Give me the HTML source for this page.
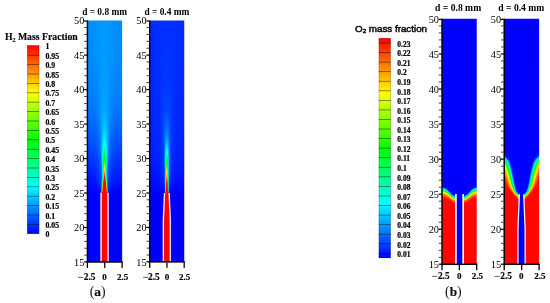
<!DOCTYPE html>
<html lang="en"><head><meta charset="utf-8"><title>Mass fraction contours</title>
<style>html,body{margin:0;padding:0;background:#fff;}svg{display:block;}</style></head>
<body>
<svg width="550" height="303" viewBox="0 0 550 303">
<defs>
<linearGradient id="p1_0" gradientUnits="userSpaceOnUse" x1="0" y1="20" x2="0" y2="262"><stop offset="0.002066" stop-color="#008cff"/><stop offset="0.1467" stop-color="#008aff"/><stop offset="0.2872" stop-color="#0081ff"/><stop offset="0.374" stop-color="#0075ff"/><stop offset="0.4731" stop-color="#005bff"/><stop offset="0.7169" stop-color="#0000ff"/><stop offset="0.9979" stop-color="#0000ff"/></linearGradient>
<linearGradient id="p1_1" gradientUnits="userSpaceOnUse" x1="0" y1="20" x2="0" y2="262"><stop offset="0.002066" stop-color="#008cff"/><stop offset="0.1467" stop-color="#008aff"/><stop offset="0.2872" stop-color="#0081ff"/><stop offset="0.374" stop-color="#0075ff"/><stop offset="0.4731" stop-color="#005bff"/><stop offset="0.7169" stop-color="#0000ff"/><stop offset="0.9979" stop-color="#0000ff"/></linearGradient>
<linearGradient id="p1_2" gradientUnits="userSpaceOnUse" x1="0" y1="20" x2="0" y2="262"><stop offset="0.002066" stop-color="#008dff"/><stop offset="0.1467" stop-color="#008aff"/><stop offset="0.2872" stop-color="#0081ff"/><stop offset="0.374" stop-color="#0075ff"/><stop offset="0.4731" stop-color="#005bff"/><stop offset="0.7169" stop-color="#0000ff"/><stop offset="0.9979" stop-color="#0000ff"/></linearGradient>
<linearGradient id="p1_3" gradientUnits="userSpaceOnUse" x1="0" y1="20" x2="0" y2="262"><stop offset="0.002066" stop-color="#008dff"/><stop offset="0.1467" stop-color="#008bff"/><stop offset="0.2872" stop-color="#0081ff"/><stop offset="0.374" stop-color="#0076ff"/><stop offset="0.4731" stop-color="#005bff"/><stop offset="0.7169" stop-color="#0000ff"/><stop offset="0.9979" stop-color="#0000ff"/></linearGradient>
<linearGradient id="p1_4" gradientUnits="userSpaceOnUse" x1="0" y1="20" x2="0" y2="262"><stop offset="0.002066" stop-color="#008eff"/><stop offset="0.1467" stop-color="#008bff"/><stop offset="0.2872" stop-color="#0082ff"/><stop offset="0.374" stop-color="#0076ff"/><stop offset="0.4731" stop-color="#005cff"/><stop offset="0.7169" stop-color="#0000ff"/><stop offset="0.9979" stop-color="#0000ff"/></linearGradient>
<linearGradient id="p1_5" gradientUnits="userSpaceOnUse" x1="0" y1="20" x2="0" y2="262"><stop offset="0.002066" stop-color="#008eff"/><stop offset="0.1467" stop-color="#008cff"/><stop offset="0.2872" stop-color="#0082ff"/><stop offset="0.374" stop-color="#0077ff"/><stop offset="0.4731" stop-color="#005cff"/><stop offset="0.7169" stop-color="#0000ff"/><stop offset="0.9979" stop-color="#0000ff"/></linearGradient>
<linearGradient id="p1_6" gradientUnits="userSpaceOnUse" x1="0" y1="20" x2="0" y2="262"><stop offset="0.002066" stop-color="#008fff"/><stop offset="0.1467" stop-color="#008dff"/><stop offset="0.2872" stop-color="#0083ff"/><stop offset="0.374" stop-color="#0078ff"/><stop offset="0.4855" stop-color="#0059ff"/><stop offset="0.5723" stop-color="#003aff"/><stop offset="0.7169" stop-color="#0000ff"/><stop offset="0.9979" stop-color="#0000ff"/></linearGradient>
<linearGradient id="p1_7" gradientUnits="userSpaceOnUse" x1="0" y1="20" x2="0" y2="262"><stop offset="0.002066" stop-color="#0090ff"/><stop offset="0.1467" stop-color="#008eff"/><stop offset="0.2872" stop-color="#0084ff"/><stop offset="0.374" stop-color="#0079ff"/><stop offset="0.469" stop-color="#0061ff"/><stop offset="0.5351" stop-color="#004aff"/><stop offset="0.7169" stop-color="#0000ff"/><stop offset="0.9979" stop-color="#0000ff"/></linearGradient>
<linearGradient id="p1_8" gradientUnits="userSpaceOnUse" x1="0" y1="20" x2="0" y2="262"><stop offset="0.002066" stop-color="#0092ff"/><stop offset="0.1632" stop-color="#008fff"/><stop offset="0.2872" stop-color="#0086ff"/><stop offset="0.374" stop-color="#007cff"/><stop offset="0.469" stop-color="#0063ff"/><stop offset="0.5434" stop-color="#004aff"/><stop offset="0.6715" stop-color="#0016ff"/><stop offset="0.7169" stop-color="#0000ff"/><stop offset="0.9979" stop-color="#0000ff"/></linearGradient>
<linearGradient id="p1_9" gradientUnits="userSpaceOnUse" x1="0" y1="20" x2="0" y2="262"><stop offset="0.002066" stop-color="#0093ff"/><stop offset="0.1798" stop-color="#0090ff"/><stop offset="0.374" stop-color="#007fff"/><stop offset="0.469" stop-color="#0067ff"/><stop offset="0.5434" stop-color="#004fff"/><stop offset="0.6715" stop-color="#001bff"/><stop offset="0.7169" stop-color="#0000ff"/><stop offset="0.9979" stop-color="#0000ff"/></linearGradient>
<linearGradient id="p1_10" gradientUnits="userSpaceOnUse" x1="0" y1="20" x2="0" y2="262"><stop offset="0.002066" stop-color="#0094ff"/><stop offset="0.1921" stop-color="#0091ff"/><stop offset="0.374" stop-color="#0083ff"/><stop offset="0.469" stop-color="#006cff"/><stop offset="0.5434" stop-color="#0055ff"/><stop offset="0.6715" stop-color="#0021ff"/><stop offset="0.7169" stop-color="#0000ff"/><stop offset="0.9979" stop-color="#0000ff"/></linearGradient>
<linearGradient id="p1_11" gradientUnits="userSpaceOnUse" x1="0" y1="20" x2="0" y2="262"><stop offset="0.002066" stop-color="#0095ff"/><stop offset="0.2004" stop-color="#0093ff"/><stop offset="0.374" stop-color="#0088ff"/><stop offset="0.469" stop-color="#0074ff"/><stop offset="0.5475" stop-color="#005cff"/><stop offset="0.6715" stop-color="#0028ff"/><stop offset="0.7169" stop-color="#0000ff"/><stop offset="0.9979" stop-color="#0000ff"/></linearGradient>
<linearGradient id="p1_12" gradientUnits="userSpaceOnUse" x1="0" y1="20" x2="0" y2="262"><stop offset="0.002066" stop-color="#0097ff"/><stop offset="0.2252" stop-color="#0095ff"/><stop offset="0.3905" stop-color="#008dff"/><stop offset="0.4731" stop-color="#007eff"/><stop offset="0.5434" stop-color="#0069ff"/><stop offset="0.6715" stop-color="#0032ff"/><stop offset="0.7169" stop-color="#0000ff"/><stop offset="0.9979" stop-color="#0000ff"/></linearGradient>
<linearGradient id="p1_13" gradientUnits="userSpaceOnUse" x1="0" y1="20" x2="0" y2="262"><stop offset="0.002066" stop-color="#0097ff"/><stop offset="0.3492" stop-color="#0097ff"/><stop offset="0.4731" stop-color="#008fff"/><stop offset="0.5434" stop-color="#007fff"/><stop offset="0.626" stop-color="#0050ff"/><stop offset="0.6715" stop-color="#003dff"/><stop offset="0.7128" stop-color="#0009ff"/><stop offset="0.7169" stop-color="#0000ff"/><stop offset="0.9979" stop-color="#0000ff"/></linearGradient>
<linearGradient id="p1_14" gradientUnits="userSpaceOnUse" x1="0" y1="20" x2="0" y2="262"><stop offset="0.002066" stop-color="#0098ff"/><stop offset="0.2872" stop-color="#009aff"/><stop offset="0.5021" stop-color="#00a7ff"/><stop offset="0.5351" stop-color="#00acff"/><stop offset="0.5558" stop-color="#00a9ff"/><stop offset="0.5806" stop-color="#009bff"/><stop offset="0.6384" stop-color="#0064ff"/><stop offset="0.6591" stop-color="#006cff"/><stop offset="0.6798" stop-color="#007dff"/><stop offset="0.688" stop-color="#008aff"/><stop offset="0.6921" stop-color="#008ef8"/><stop offset="0.7004" stop-color="#009be2"/><stop offset="0.7045" stop-color="#00a5d3"/><stop offset="0.7087" stop-color="#02aebd"/><stop offset="0.7128" stop-color="#13b5ac"/><stop offset="0.7169" stop-color="#0000ff"/><stop offset="0.9979" stop-color="#0000ff"/></linearGradient>
<linearGradient id="p1_15" gradientUnits="userSpaceOnUse" x1="0" y1="20" x2="0" y2="262"><stop offset="0.002066" stop-color="#0099ff"/><stop offset="0.2872" stop-color="#009cff"/><stop offset="0.374" stop-color="#00a4ff"/><stop offset="0.4607" stop-color="#00baff"/><stop offset="0.5021" stop-color="#00cdff"/><stop offset="0.5227" stop-color="#00e6ff"/><stop offset="0.5434" stop-color="#00f0f8"/><stop offset="0.5599" stop-color="#00f4ec"/><stop offset="0.5847" stop-color="#00f4df"/><stop offset="0.6012" stop-color="#00f0db"/><stop offset="0.6178" stop-color="#00e6de"/><stop offset="0.6343" stop-color="#00d7ea"/><stop offset="0.6384" stop-color="#00d7e7"/><stop offset="0.6426" stop-color="#00ddd8"/><stop offset="0.6467" stop-color="#00e3c7"/><stop offset="0.655" stop-color="#02f09d"/><stop offset="0.6674" stop-color="#27fd69"/><stop offset="0.6715" stop-color="#40ff59"/><stop offset="0.6756" stop-color="#58fa49"/><stop offset="0.6798" stop-color="#67ec35"/><stop offset="0.6839" stop-color="#7edd25"/><stop offset="0.688" stop-color="#96c81a"/><stop offset="0.6921" stop-color="#a7ad0d"/><stop offset="0.6963" stop-color="#bd9801"/><stop offset="0.7004" stop-color="#d47e00"/><stop offset="0.7045" stop-color="#e86400"/><stop offset="0.7087" stop-color="#fc5000"/><stop offset="0.7128" stop-color="#ff3200"/><stop offset="0.7169" stop-color="#0000ff"/><stop offset="0.9979" stop-color="#0000ff"/></linearGradient>
<linearGradient id="p1_16" gradientUnits="userSpaceOnUse" x1="0" y1="20" x2="0" y2="262"><stop offset="0.002066" stop-color="#0099ff"/><stop offset="0.2831" stop-color="#009dff"/><stop offset="0.3698" stop-color="#00a7ff"/><stop offset="0.4566" stop-color="#00c9ff"/><stop offset="0.5021" stop-color="#00f1ff"/><stop offset="0.5062" stop-color="#00f8fd"/><stop offset="0.5145" stop-color="#00fff0"/><stop offset="0.5434" stop-color="#00ffb3"/><stop offset="0.5764" stop-color="#00ff4a"/><stop offset="0.5847" stop-color="#06ff31"/><stop offset="0.593" stop-color="#14ff23"/><stop offset="0.6095" stop-color="#39ff13"/><stop offset="0.626" stop-color="#62ff11"/><stop offset="0.6343" stop-color="#6efe13"/><stop offset="0.6384" stop-color="#7cf60f"/><stop offset="0.6426" stop-color="#99e604"/><stop offset="0.6467" stop-color="#b5cd00"/><stop offset="0.6508" stop-color="#d3b000"/><stop offset="0.655" stop-color="#e59200"/><stop offset="0.6632" stop-color="#fe6300"/><stop offset="0.6715" stop-color="#ff3000"/><stop offset="0.6756" stop-color="#ff1e00"/><stop offset="0.6798" stop-color="#ff1100"/><stop offset="0.688" stop-color="#ff0600"/><stop offset="0.7128" stop-color="#ff0600"/><stop offset="0.7169" stop-color="#0000ff"/><stop offset="0.9979" stop-color="#0000ff"/></linearGradient>
<linearGradient id="p1_17" gradientUnits="userSpaceOnUse" x1="0" y1="20" x2="0" y2="262"><stop offset="0.002066" stop-color="#0099ff"/><stop offset="0.2831" stop-color="#009eff"/><stop offset="0.3698" stop-color="#00a8ff"/><stop offset="0.4566" stop-color="#00d0ff"/><stop offset="0.4979" stop-color="#00faff"/><stop offset="0.5021" stop-color="#00fefd"/><stop offset="0.5434" stop-color="#00ff89"/><stop offset="0.5723" stop-color="#01ff08"/><stop offset="0.5764" stop-color="#11ff00"/><stop offset="0.5806" stop-color="#29ff00"/><stop offset="0.593" stop-color="#73ff00"/><stop offset="0.6095" stop-color="#dbff00"/><stop offset="0.6136" stop-color="#f3fc00"/><stop offset="0.6178" stop-color="#fdeb00"/><stop offset="0.6343" stop-color="#ff8700"/><stop offset="0.6426" stop-color="#ff4300"/><stop offset="0.6508" stop-color="#ff0e00"/><stop offset="0.655" stop-color="#ff0600"/><stop offset="0.7128" stop-color="#ff0600"/><stop offset="0.7169" stop-color="#0000ff"/><stop offset="0.9979" stop-color="#0000ff"/></linearGradient>
<linearGradient id="p1_18" gradientUnits="userSpaceOnUse" x1="0" y1="20" x2="0" y2="262"><stop offset="0.002066" stop-color="#0099ff"/><stop offset="0.2831" stop-color="#009eff"/><stop offset="0.3698" stop-color="#00a7ff"/><stop offset="0.4566" stop-color="#00caff"/><stop offset="0.5021" stop-color="#00f4ff"/><stop offset="0.5062" stop-color="#00fafc"/><stop offset="0.5145" stop-color="#00ffed"/><stop offset="0.5434" stop-color="#00ffac"/><stop offset="0.5723" stop-color="#00ff4c"/><stop offset="0.5764" stop-color="#00ff3b"/><stop offset="0.5806" stop-color="#04ff2e"/><stop offset="0.5847" stop-color="#0aff23"/><stop offset="0.5971" stop-color="#28ff12"/><stop offset="0.626" stop-color="#7dfe07"/><stop offset="0.6343" stop-color="#85f508"/><stop offset="0.6384" stop-color="#94ec04"/><stop offset="0.6426" stop-color="#b3d600"/><stop offset="0.6467" stop-color="#d0ba00"/><stop offset="0.6508" stop-color="#e69700"/><stop offset="0.655" stop-color="#f47900"/><stop offset="0.6591" stop-color="#fe6300"/><stop offset="0.6674" stop-color="#ff3000"/><stop offset="0.6715" stop-color="#ff1e00"/><stop offset="0.6756" stop-color="#ff1200"/><stop offset="0.6839" stop-color="#ff0600"/><stop offset="0.7128" stop-color="#ff0600"/><stop offset="0.7169" stop-color="#0000ff"/><stop offset="0.9979" stop-color="#0000ff"/></linearGradient>
<linearGradient id="p1_19" gradientUnits="userSpaceOnUse" x1="0" y1="20" x2="0" y2="262"><stop offset="0.002066" stop-color="#0099ff"/><stop offset="0.2872" stop-color="#009cff"/><stop offset="0.374" stop-color="#00a4ff"/><stop offset="0.4607" stop-color="#00bcff"/><stop offset="0.5021" stop-color="#00d1ff"/><stop offset="0.5186" stop-color="#00e7ff"/><stop offset="0.531" stop-color="#00f0fb"/><stop offset="0.5434" stop-color="#00f4f4"/><stop offset="0.5558" stop-color="#00f8e9"/><stop offset="0.5847" stop-color="#00f9d1"/><stop offset="0.5971" stop-color="#00f7cc"/><stop offset="0.6136" stop-color="#00f2ce"/><stop offset="0.6343" stop-color="#00e0da"/><stop offset="0.6384" stop-color="#00e0d5"/><stop offset="0.6467" stop-color="#00efaf"/><stop offset="0.6508" stop-color="#03f397"/><stop offset="0.6632" stop-color="#2bff61"/><stop offset="0.6674" stop-color="#45ff51"/><stop offset="0.6715" stop-color="#5bf93f"/><stop offset="0.6756" stop-color="#6beb2c"/><stop offset="0.6798" stop-color="#85dd20"/><stop offset="0.688" stop-color="#aaad08"/><stop offset="0.6921" stop-color="#c39800"/><stop offset="0.7004" stop-color="#ec6400"/><stop offset="0.7045" stop-color="#fd4f00"/><stop offset="0.7087" stop-color="#ff3200"/><stop offset="0.7128" stop-color="#ff1b00"/><stop offset="0.7169" stop-color="#0000ff"/><stop offset="0.9979" stop-color="#0000ff"/></linearGradient>
<linearGradient id="p1_20" gradientUnits="userSpaceOnUse" x1="0" y1="20" x2="0" y2="262"><stop offset="0.002066" stop-color="#0098ff"/><stop offset="0.3698" stop-color="#009eff"/><stop offset="0.5021" stop-color="#00aaff"/><stop offset="0.5227" stop-color="#00b1ff"/><stop offset="0.5393" stop-color="#00b2ff"/><stop offset="0.5599" stop-color="#00aeff"/><stop offset="0.5847" stop-color="#00a1ff"/><stop offset="0.6384" stop-color="#006aff"/><stop offset="0.6591" stop-color="#0077ff"/><stop offset="0.6798" stop-color="#0093ff"/><stop offset="0.688" stop-color="#009bf2"/><stop offset="0.6963" stop-color="#00a9dc"/><stop offset="0.7004" stop-color="#00b3cb"/><stop offset="0.7045" stop-color="#05b9b3"/><stop offset="0.7128" stop-color="#2fcb94"/><stop offset="0.7169" stop-color="#0000ff"/><stop offset="0.9979" stop-color="#0000ff"/></linearGradient>
<linearGradient id="p1_21" gradientUnits="userSpaceOnUse" x1="0" y1="20" x2="0" y2="262"><stop offset="0.002066" stop-color="#0098ff"/><stop offset="0.3533" stop-color="#0098ff"/><stop offset="0.4773" stop-color="#0090ff"/><stop offset="0.5434" stop-color="#0082ff"/><stop offset="0.6302" stop-color="#004fff"/><stop offset="0.6715" stop-color="#003fff"/><stop offset="0.7128" stop-color="#000dff"/><stop offset="0.7169" stop-color="#0000ff"/><stop offset="0.9979" stop-color="#0000ff"/></linearGradient>
<linearGradient id="p1_22" gradientUnits="userSpaceOnUse" x1="0" y1="20" x2="0" y2="262"><stop offset="0.002066" stop-color="#0097ff"/><stop offset="0.2293" stop-color="#0095ff"/><stop offset="0.3946" stop-color="#008dff"/><stop offset="0.469" stop-color="#0080ff"/><stop offset="0.531" stop-color="#006fff"/><stop offset="0.6715" stop-color="#0033ff"/><stop offset="0.7169" stop-color="#0000ff"/><stop offset="0.9979" stop-color="#0000ff"/></linearGradient>
<linearGradient id="p1_23" gradientUnits="userSpaceOnUse" x1="0" y1="20" x2="0" y2="262"><stop offset="0.002066" stop-color="#0096ff"/><stop offset="0.2004" stop-color="#0094ff"/><stop offset="0.374" stop-color="#0089ff"/><stop offset="0.469" stop-color="#0075ff"/><stop offset="0.5475" stop-color="#005dff"/><stop offset="0.6715" stop-color="#0029ff"/><stop offset="0.7169" stop-color="#0000ff"/><stop offset="0.9979" stop-color="#0000ff"/></linearGradient>
<linearGradient id="p1_24" gradientUnits="userSpaceOnUse" x1="0" y1="20" x2="0" y2="262"><stop offset="0.002066" stop-color="#0094ff"/><stop offset="0.1921" stop-color="#0091ff"/><stop offset="0.374" stop-color="#0083ff"/><stop offset="0.469" stop-color="#006dff"/><stop offset="0.5434" stop-color="#0056ff"/><stop offset="0.6715" stop-color="#0021ff"/><stop offset="0.7169" stop-color="#0000ff"/><stop offset="0.9979" stop-color="#0000ff"/></linearGradient>
<linearGradient id="p1_25" gradientUnits="userSpaceOnUse" x1="0" y1="20" x2="0" y2="262"><stop offset="0.002066" stop-color="#0093ff"/><stop offset="0.1798" stop-color="#0090ff"/><stop offset="0.374" stop-color="#007fff"/><stop offset="0.469" stop-color="#0068ff"/><stop offset="0.5434" stop-color="#004fff"/><stop offset="0.6715" stop-color="#001bff"/><stop offset="0.7169" stop-color="#0000ff"/><stop offset="0.9979" stop-color="#0000ff"/></linearGradient>
<linearGradient id="p1_26" gradientUnits="userSpaceOnUse" x1="0" y1="20" x2="0" y2="262"><stop offset="0.002066" stop-color="#0092ff"/><stop offset="0.1632" stop-color="#008fff"/><stop offset="0.2872" stop-color="#0086ff"/><stop offset="0.374" stop-color="#007cff"/><stop offset="0.469" stop-color="#0064ff"/><stop offset="0.5434" stop-color="#004aff"/><stop offset="0.6715" stop-color="#0017ff"/><stop offset="0.7169" stop-color="#0000ff"/><stop offset="0.9979" stop-color="#0000ff"/></linearGradient>
<linearGradient id="p1_27" gradientUnits="userSpaceOnUse" x1="0" y1="20" x2="0" y2="262"><stop offset="0.002066" stop-color="#0090ff"/><stop offset="0.1508" stop-color="#008eff"/><stop offset="0.2872" stop-color="#0085ff"/><stop offset="0.374" stop-color="#007aff"/><stop offset="0.469" stop-color="#0061ff"/><stop offset="0.5393" stop-color="#0049ff"/><stop offset="0.7169" stop-color="#0000ff"/><stop offset="0.9979" stop-color="#0000ff"/></linearGradient>
<linearGradient id="p1_28" gradientUnits="userSpaceOnUse" x1="0" y1="20" x2="0" y2="262"><stop offset="0.002066" stop-color="#008fff"/><stop offset="0.1467" stop-color="#008dff"/><stop offset="0.2872" stop-color="#0083ff"/><stop offset="0.374" stop-color="#0078ff"/><stop offset="0.4938" stop-color="#0057ff"/><stop offset="0.7169" stop-color="#0000ff"/><stop offset="0.9979" stop-color="#0000ff"/></linearGradient>
<linearGradient id="p1_29" gradientUnits="userSpaceOnUse" x1="0" y1="20" x2="0" y2="262"><stop offset="0.002066" stop-color="#008eff"/><stop offset="0.1467" stop-color="#008cff"/><stop offset="0.2872" stop-color="#0082ff"/><stop offset="0.374" stop-color="#0077ff"/><stop offset="0.4731" stop-color="#005cff"/><stop offset="0.7169" stop-color="#0000ff"/><stop offset="0.9979" stop-color="#0000ff"/></linearGradient>
<linearGradient id="p1_30" gradientUnits="userSpaceOnUse" x1="0" y1="20" x2="0" y2="262"><stop offset="0.002066" stop-color="#008eff"/><stop offset="0.1467" stop-color="#008bff"/><stop offset="0.2872" stop-color="#0082ff"/><stop offset="0.374" stop-color="#0076ff"/><stop offset="0.4731" stop-color="#005cff"/><stop offset="0.7169" stop-color="#0000ff"/><stop offset="0.9979" stop-color="#0000ff"/></linearGradient>
<linearGradient id="p1_31" gradientUnits="userSpaceOnUse" x1="0" y1="20" x2="0" y2="262"><stop offset="0.002066" stop-color="#008dff"/><stop offset="0.1467" stop-color="#008bff"/><stop offset="0.2872" stop-color="#0081ff"/><stop offset="0.374" stop-color="#0076ff"/><stop offset="0.4731" stop-color="#005bff"/><stop offset="0.7169" stop-color="#0000ff"/><stop offset="0.9979" stop-color="#0000ff"/></linearGradient>
<linearGradient id="p1_32" gradientUnits="userSpaceOnUse" x1="0" y1="20" x2="0" y2="262"><stop offset="0.002066" stop-color="#008dff"/><stop offset="0.1467" stop-color="#008aff"/><stop offset="0.2872" stop-color="#0081ff"/><stop offset="0.374" stop-color="#0075ff"/><stop offset="0.4731" stop-color="#005bff"/><stop offset="0.7169" stop-color="#0000ff"/><stop offset="0.9979" stop-color="#0000ff"/></linearGradient>
<linearGradient id="p1_33" gradientUnits="userSpaceOnUse" x1="0" y1="20" x2="0" y2="262"><stop offset="0.002066" stop-color="#008cff"/><stop offset="0.1467" stop-color="#008aff"/><stop offset="0.2872" stop-color="#0081ff"/><stop offset="0.374" stop-color="#0075ff"/><stop offset="0.4731" stop-color="#005bff"/><stop offset="0.7169" stop-color="#0000ff"/><stop offset="0.9979" stop-color="#0000ff"/></linearGradient>
<linearGradient id="p1_34" gradientUnits="userSpaceOnUse" x1="0" y1="20" x2="0" y2="262"><stop offset="0.002066" stop-color="#008cff"/><stop offset="0.1467" stop-color="#008aff"/><stop offset="0.2872" stop-color="#0081ff"/><stop offset="0.374" stop-color="#0075ff"/><stop offset="0.4731" stop-color="#005bff"/><stop offset="0.7169" stop-color="#0000ff"/><stop offset="0.9979" stop-color="#0000ff"/></linearGradient>
<linearGradient id="p1_35" gradientUnits="userSpaceOnUse" x1="0" y1="20" x2="0" y2="262"><stop offset="0.002066" stop-color="#008cff"/><stop offset="0.1467" stop-color="#008aff"/><stop offset="0.2872" stop-color="#0081ff"/><stop offset="0.374" stop-color="#0075ff"/><stop offset="0.4731" stop-color="#005bff"/><stop offset="0.7169" stop-color="#0000ff"/><stop offset="0.9979" stop-color="#0000ff"/></linearGradient>
<clipPath id="clip_p1"><rect x="87.25" y="20.50" width="34.90" height="241.50"/></clipPath>
<linearGradient id="p2_0" gradientUnits="userSpaceOnUse" x1="0" y1="20" x2="0" y2="262"><stop offset="0.002066" stop-color="#002bff"/><stop offset="0.2335" stop-color="#002aff"/><stop offset="0.4277" stop-color="#0025ff"/><stop offset="0.5682" stop-color="#001dff"/><stop offset="0.655" stop-color="#000fff"/><stop offset="0.7169" stop-color="#0000ff"/><stop offset="0.9979" stop-color="#0000ff"/></linearGradient>
<linearGradient id="p2_1" gradientUnits="userSpaceOnUse" x1="0" y1="20" x2="0" y2="262"><stop offset="0.002066" stop-color="#002cff"/><stop offset="0.2335" stop-color="#002aff"/><stop offset="0.4277" stop-color="#0025ff"/><stop offset="0.5682" stop-color="#001dff"/><stop offset="0.655" stop-color="#000fff"/><stop offset="0.7169" stop-color="#0000ff"/><stop offset="0.9979" stop-color="#0000ff"/></linearGradient>
<linearGradient id="p2_2" gradientUnits="userSpaceOnUse" x1="0" y1="20" x2="0" y2="262"><stop offset="0.002066" stop-color="#002cff"/><stop offset="0.2335" stop-color="#002aff"/><stop offset="0.5475" stop-color="#001eff"/><stop offset="0.655" stop-color="#000fff"/><stop offset="0.7169" stop-color="#0000ff"/><stop offset="0.9979" stop-color="#0000ff"/></linearGradient>
<linearGradient id="p2_3" gradientUnits="userSpaceOnUse" x1="0" y1="20" x2="0" y2="262"><stop offset="0.002066" stop-color="#002cff"/><stop offset="0.4318" stop-color="#0026ff"/><stop offset="0.5723" stop-color="#001dff"/><stop offset="0.6591" stop-color="#000fff"/><stop offset="0.7169" stop-color="#0000ff"/><stop offset="0.9979" stop-color="#0000ff"/></linearGradient>
<linearGradient id="p2_4" gradientUnits="userSpaceOnUse" x1="0" y1="20" x2="0" y2="262"><stop offset="0.002066" stop-color="#002cff"/><stop offset="0.4318" stop-color="#0026ff"/><stop offset="0.5723" stop-color="#001eff"/><stop offset="0.6591" stop-color="#000fff"/><stop offset="0.7169" stop-color="#0000ff"/><stop offset="0.9979" stop-color="#0000ff"/></linearGradient>
<linearGradient id="p2_5" gradientUnits="userSpaceOnUse" x1="0" y1="20" x2="0" y2="262"><stop offset="0.002066" stop-color="#002dff"/><stop offset="0.4318" stop-color="#0027ff"/><stop offset="0.5723" stop-color="#001fff"/><stop offset="0.6591" stop-color="#0010ff"/><stop offset="0.7169" stop-color="#0000ff"/><stop offset="0.9979" stop-color="#0000ff"/></linearGradient>
<linearGradient id="p2_6" gradientUnits="userSpaceOnUse" x1="0" y1="20" x2="0" y2="262"><stop offset="0.002066" stop-color="#002dff"/><stop offset="0.4318" stop-color="#0028ff"/><stop offset="0.5723" stop-color="#0020ff"/><stop offset="0.6591" stop-color="#0011ff"/><stop offset="0.7169" stop-color="#0000ff"/><stop offset="0.9979" stop-color="#0000ff"/></linearGradient>
<linearGradient id="p2_7" gradientUnits="userSpaceOnUse" x1="0" y1="20" x2="0" y2="262"><stop offset="0.002066" stop-color="#002eff"/><stop offset="0.2293" stop-color="#002dff"/><stop offset="0.4814" stop-color="#0027ff"/><stop offset="0.5764" stop-color="#0021ff"/><stop offset="0.6591" stop-color="#0013ff"/><stop offset="0.7169" stop-color="#0000ff"/><stop offset="0.9979" stop-color="#0000ff"/></linearGradient>
<linearGradient id="p2_8" gradientUnits="userSpaceOnUse" x1="0" y1="20" x2="0" y2="262"><stop offset="0.002066" stop-color="#002eff"/><stop offset="0.2335" stop-color="#002eff"/><stop offset="0.531" stop-color="#0027ff"/><stop offset="0.5723" stop-color="#0024ff"/><stop offset="0.6591" stop-color="#0015ff"/><stop offset="0.7169" stop-color="#0000ff"/><stop offset="0.9979" stop-color="#0000ff"/></linearGradient>
<linearGradient id="p2_9" gradientUnits="userSpaceOnUse" x1="0" y1="20" x2="0" y2="262"><stop offset="0.002066" stop-color="#002fff"/><stop offset="0.25" stop-color="#002fff"/><stop offset="0.5434" stop-color="#0029ff"/><stop offset="0.6591" stop-color="#0018ff"/><stop offset="0.7169" stop-color="#0000ff"/><stop offset="0.9979" stop-color="#0000ff"/></linearGradient>
<linearGradient id="p2_10" gradientUnits="userSpaceOnUse" x1="0" y1="20" x2="0" y2="262"><stop offset="0.002066" stop-color="#002fff"/><stop offset="0.3905" stop-color="#0030ff"/><stop offset="0.5434" stop-color="#002cff"/><stop offset="0.6674" stop-color="#0019ff"/><stop offset="0.7169" stop-color="#0000ff"/><stop offset="0.9979" stop-color="#0000ff"/></linearGradient>
<linearGradient id="p2_11" gradientUnits="userSpaceOnUse" x1="0" y1="20" x2="0" y2="262"><stop offset="0.002066" stop-color="#002fff"/><stop offset="0.407" stop-color="#0035ff"/><stop offset="0.5434" stop-color="#0030ff"/><stop offset="0.6674" stop-color="#001dff"/><stop offset="0.7169" stop-color="#0000ff"/><stop offset="0.9979" stop-color="#0000ff"/></linearGradient>
<linearGradient id="p2_12" gradientUnits="userSpaceOnUse" x1="0" y1="20" x2="0" y2="262"><stop offset="0.002066" stop-color="#0030ff"/><stop offset="0.4814" stop-color="#003cff"/><stop offset="0.5434" stop-color="#0036ff"/><stop offset="0.6674" stop-color="#0020ff"/><stop offset="0.7169" stop-color="#0000ff"/><stop offset="0.9979" stop-color="#0000ff"/></linearGradient>
<linearGradient id="p2_13" gradientUnits="userSpaceOnUse" x1="0" y1="20" x2="0" y2="262"><stop offset="0.002066" stop-color="#0030ff"/><stop offset="0.2293" stop-color="#0034ff"/><stop offset="0.3326" stop-color="#0039ff"/><stop offset="0.4483" stop-color="#004aff"/><stop offset="0.5145" stop-color="#004dff"/><stop offset="0.5475" stop-color="#0048ff"/><stop offset="0.6178" stop-color="#0030ff"/><stop offset="0.6715" stop-color="#0023ff"/><stop offset="0.7169" stop-color="#0000ff"/><stop offset="0.9979" stop-color="#0000ff"/></linearGradient>
<linearGradient id="p2_14" gradientUnits="userSpaceOnUse" x1="0" y1="20" x2="0" y2="262"><stop offset="0.002066" stop-color="#0030ff"/><stop offset="0.2293" stop-color="#0034ff"/><stop offset="0.3368" stop-color="#003dff"/><stop offset="0.374" stop-color="#0042ff"/><stop offset="0.469" stop-color="#0060ff"/><stop offset="0.5186" stop-color="#0074ff"/><stop offset="0.5558" stop-color="#007bff"/><stop offset="0.593" stop-color="#006fff"/><stop offset="0.6219" stop-color="#0058ff"/><stop offset="0.6467" stop-color="#005aff"/><stop offset="0.6715" stop-color="#004fff"/><stop offset="0.7128" stop-color="#0012ff"/><stop offset="0.7169" stop-color="#0000ff"/><stop offset="0.9979" stop-color="#0000ff"/></linearGradient>
<linearGradient id="p2_15" gradientUnits="userSpaceOnUse" x1="0" y1="20" x2="0" y2="262"><stop offset="0.002066" stop-color="#0030ff"/><stop offset="0.2293" stop-color="#0035ff"/><stop offset="0.3326" stop-color="#003eff"/><stop offset="0.374" stop-color="#0046ff"/><stop offset="0.4277" stop-color="#005eff"/><stop offset="0.469" stop-color="#0076ff"/><stop offset="0.5021" stop-color="#0093ff"/><stop offset="0.5393" stop-color="#00c1ff"/><stop offset="0.5475" stop-color="#00d5ff"/><stop offset="0.5599" stop-color="#00e5f6"/><stop offset="0.5847" stop-color="#00f0d6"/><stop offset="0.6095" stop-color="#00f1b2"/><stop offset="0.6219" stop-color="#00eeab"/><stop offset="0.626" stop-color="#00ef9d"/><stop offset="0.6302" stop-color="#05f290"/><stop offset="0.6508" stop-color="#2af967"/><stop offset="0.6632" stop-color="#4efb5e"/><stop offset="0.6756" stop-color="#5fe757"/><stop offset="0.7128" stop-color="#7fb254"/><stop offset="0.7169" stop-color="#0000ff"/><stop offset="0.9979" stop-color="#0000ff"/></linearGradient>
<linearGradient id="p2_16" gradientUnits="userSpaceOnUse" x1="0" y1="20" x2="0" y2="262"><stop offset="0.002066" stop-color="#0030ff"/><stop offset="0.2293" stop-color="#0035ff"/><stop offset="0.3326" stop-color="#003fff"/><stop offset="0.374" stop-color="#0048ff"/><stop offset="0.4277" stop-color="#0064ff"/><stop offset="0.469" stop-color="#0082ff"/><stop offset="0.5021" stop-color="#00acff"/><stop offset="0.5351" stop-color="#00f1ff"/><stop offset="0.5393" stop-color="#00fafc"/><stop offset="0.5434" stop-color="#00ffef"/><stop offset="0.564" stop-color="#00ff94"/><stop offset="0.5847" stop-color="#00ff29"/><stop offset="0.5888" stop-color="#06ff18"/><stop offset="0.593" stop-color="#16ff0d"/><stop offset="0.6054" stop-color="#56ff00"/><stop offset="0.6178" stop-color="#a6ff00"/><stop offset="0.6219" stop-color="#bbfd00"/><stop offset="0.6302" stop-color="#e1e900"/><stop offset="0.6343" stop-color="#ecd800"/><stop offset="0.6426" stop-color="#fcb400"/><stop offset="0.6467" stop-color="#ff9f00"/><stop offset="0.6591" stop-color="#ff5800"/><stop offset="0.6715" stop-color="#ff1d00"/><stop offset="0.6756" stop-color="#ff0d00"/><stop offset="0.6798" stop-color="#ff0a00"/><stop offset="0.7128" stop-color="#ff0600"/><stop offset="0.7169" stop-color="#0000ff"/><stop offset="0.9979" stop-color="#0000ff"/></linearGradient>
<linearGradient id="p2_17" gradientUnits="userSpaceOnUse" x1="0" y1="20" x2="0" y2="262"><stop offset="0.002066" stop-color="#0030ff"/><stop offset="0.2293" stop-color="#0035ff"/><stop offset="0.3326" stop-color="#003fff"/><stop offset="0.374" stop-color="#0047ff"/><stop offset="0.4277" stop-color="#0063ff"/><stop offset="0.469" stop-color="#0080ff"/><stop offset="0.5021" stop-color="#00a7ff"/><stop offset="0.5393" stop-color="#00effe"/><stop offset="0.5475" stop-color="#00fdea"/><stop offset="0.5599" stop-color="#00ffbd"/><stop offset="0.5847" stop-color="#00ff53"/><stop offset="0.5888" stop-color="#01ff40"/><stop offset="0.593" stop-color="#08ff32"/><stop offset="0.6054" stop-color="#2dff19"/><stop offset="0.6095" stop-color="#3dff14"/><stop offset="0.6219" stop-color="#6fff0f"/><stop offset="0.626" stop-color="#84fd09"/><stop offset="0.6302" stop-color="#97f601"/><stop offset="0.6343" stop-color="#acee00"/><stop offset="0.6467" stop-color="#d8c600"/><stop offset="0.6674" stop-color="#fd6d00"/><stop offset="0.6756" stop-color="#ff4500"/><stop offset="0.6921" stop-color="#ff2a00"/><stop offset="0.7128" stop-color="#ff1200"/><stop offset="0.7169" stop-color="#0000ff"/><stop offset="0.9979" stop-color="#0000ff"/></linearGradient>
<linearGradient id="p2_18" gradientUnits="userSpaceOnUse" x1="0" y1="20" x2="0" y2="262"><stop offset="0.002066" stop-color="#0030ff"/><stop offset="0.2293" stop-color="#0035ff"/><stop offset="0.3326" stop-color="#003eff"/><stop offset="0.374" stop-color="#0045ff"/><stop offset="0.469" stop-color="#0070ff"/><stop offset="0.5021" stop-color="#0088ff"/><stop offset="0.5351" stop-color="#00a6ff"/><stop offset="0.5517" stop-color="#00bdff"/><stop offset="0.564" stop-color="#00caff"/><stop offset="0.5971" stop-color="#00d3ef"/><stop offset="0.6095" stop-color="#00d0eb"/><stop offset="0.6219" stop-color="#00c7e9"/><stop offset="0.6343" stop-color="#00d0d3"/><stop offset="0.655" stop-color="#00d6ae"/><stop offset="0.6632" stop-color="#06d7a6"/><stop offset="0.6798" stop-color="#16d0a1"/><stop offset="0.7128" stop-color="#2faea3"/><stop offset="0.7169" stop-color="#0000ff"/><stop offset="0.9979" stop-color="#0000ff"/></linearGradient>
<linearGradient id="p2_19" gradientUnits="userSpaceOnUse" x1="0" y1="20" x2="0" y2="262"><stop offset="0.002066" stop-color="#0030ff"/><stop offset="0.2293" stop-color="#0034ff"/><stop offset="0.3326" stop-color="#003bff"/><stop offset="0.374" stop-color="#0041ff"/><stop offset="0.5145" stop-color="#0065ff"/><stop offset="0.5475" stop-color="#0066ff"/><stop offset="0.5888" stop-color="#0056ff"/><stop offset="0.6219" stop-color="#0042ff"/><stop offset="0.6467" stop-color="#003dff"/><stop offset="0.6715" stop-color="#0032ff"/><stop offset="0.7169" stop-color="#0000ff"/><stop offset="0.9979" stop-color="#0000ff"/></linearGradient>
<linearGradient id="p2_20" gradientUnits="userSpaceOnUse" x1="0" y1="20" x2="0" y2="262"><stop offset="0.002066" stop-color="#0030ff"/><stop offset="0.2293" stop-color="#0034ff"/><stop offset="0.3698" stop-color="#003bff"/><stop offset="0.4483" stop-color="#0045ff"/><stop offset="0.5103" stop-color="#0046ff"/><stop offset="0.5475" stop-color="#0040ff"/><stop offset="0.6715" stop-color="#0022ff"/><stop offset="0.7169" stop-color="#0000ff"/><stop offset="0.9979" stop-color="#0000ff"/></linearGradient>
<linearGradient id="p2_21" gradientUnits="userSpaceOnUse" x1="0" y1="20" x2="0" y2="262"><stop offset="0.002066" stop-color="#002fff"/><stop offset="0.4814" stop-color="#0038ff"/><stop offset="0.5723" stop-color="#0030ff"/><stop offset="0.6591" stop-color="#0021ff"/><stop offset="0.6715" stop-color="#001eff"/><stop offset="0.7169" stop-color="#0000ff"/><stop offset="0.9979" stop-color="#0000ff"/></linearGradient>
<linearGradient id="p2_22" gradientUnits="userSpaceOnUse" x1="0" y1="20" x2="0" y2="262"><stop offset="0.002066" stop-color="#002fff"/><stop offset="0.4029" stop-color="#0033ff"/><stop offset="0.5434" stop-color="#002fff"/><stop offset="0.6674" stop-color="#001cff"/><stop offset="0.7169" stop-color="#0000ff"/><stop offset="0.9979" stop-color="#0000ff"/></linearGradient>
<linearGradient id="p2_23" gradientUnits="userSpaceOnUse" x1="0" y1="20" x2="0" y2="262"><stop offset="0.002066" stop-color="#002fff"/><stop offset="0.3905" stop-color="#002fff"/><stop offset="0.5434" stop-color="#002bff"/><stop offset="0.6591" stop-color="#001aff"/><stop offset="0.7169" stop-color="#0000ff"/><stop offset="0.9979" stop-color="#0000ff"/></linearGradient>
<linearGradient id="p2_24" gradientUnits="userSpaceOnUse" x1="0" y1="20" x2="0" y2="262"><stop offset="0.002066" stop-color="#002eff"/><stop offset="0.2417" stop-color="#002fff"/><stop offset="0.5434" stop-color="#0028ff"/><stop offset="0.6591" stop-color="#0017ff"/><stop offset="0.7169" stop-color="#0000ff"/><stop offset="0.9979" stop-color="#0000ff"/></linearGradient>
<linearGradient id="p2_25" gradientUnits="userSpaceOnUse" x1="0" y1="20" x2="0" y2="262"><stop offset="0.002066" stop-color="#002eff"/><stop offset="0.2335" stop-color="#002eff"/><stop offset="0.5145" stop-color="#0027ff"/><stop offset="0.5723" stop-color="#0023ff"/><stop offset="0.655" stop-color="#0015ff"/><stop offset="0.7169" stop-color="#0000ff"/><stop offset="0.9979" stop-color="#0000ff"/></linearGradient>
<linearGradient id="p2_26" gradientUnits="userSpaceOnUse" x1="0" y1="20" x2="0" y2="262"><stop offset="0.002066" stop-color="#002eff"/><stop offset="0.2293" stop-color="#002dff"/><stop offset="0.4649" stop-color="#0027ff"/><stop offset="0.5723" stop-color="#0021ff"/><stop offset="0.6591" stop-color="#0012ff"/><stop offset="0.7169" stop-color="#0000ff"/><stop offset="0.9979" stop-color="#0000ff"/></linearGradient>
<linearGradient id="p2_27" gradientUnits="userSpaceOnUse" x1="0" y1="20" x2="0" y2="262"><stop offset="0.002066" stop-color="#002dff"/><stop offset="0.4318" stop-color="#0027ff"/><stop offset="0.5723" stop-color="#001fff"/><stop offset="0.6591" stop-color="#0011ff"/><stop offset="0.7169" stop-color="#0000ff"/><stop offset="0.9979" stop-color="#0000ff"/></linearGradient>
<linearGradient id="p2_28" gradientUnits="userSpaceOnUse" x1="0" y1="20" x2="0" y2="262"><stop offset="0.002066" stop-color="#002dff"/><stop offset="0.4318" stop-color="#0027ff"/><stop offset="0.5723" stop-color="#001eff"/><stop offset="0.6591" stop-color="#0010ff"/><stop offset="0.7169" stop-color="#0000ff"/><stop offset="0.9979" stop-color="#0000ff"/></linearGradient>
<linearGradient id="p2_29" gradientUnits="userSpaceOnUse" x1="0" y1="20" x2="0" y2="262"><stop offset="0.002066" stop-color="#002cff"/><stop offset="0.4318" stop-color="#0026ff"/><stop offset="0.5723" stop-color="#001eff"/><stop offset="0.6591" stop-color="#000fff"/><stop offset="0.7169" stop-color="#0000ff"/><stop offset="0.9979" stop-color="#0000ff"/></linearGradient>
<linearGradient id="p2_30" gradientUnits="userSpaceOnUse" x1="0" y1="20" x2="0" y2="262"><stop offset="0.002066" stop-color="#002cff"/><stop offset="0.4318" stop-color="#0025ff"/><stop offset="0.5723" stop-color="#001dff"/><stop offset="0.6591" stop-color="#000fff"/><stop offset="0.7169" stop-color="#0000ff"/><stop offset="0.9979" stop-color="#0000ff"/></linearGradient>
<linearGradient id="p2_31" gradientUnits="userSpaceOnUse" x1="0" y1="20" x2="0" y2="262"><stop offset="0.002066" stop-color="#002cff"/><stop offset="0.2335" stop-color="#002aff"/><stop offset="0.4277" stop-color="#0025ff"/><stop offset="0.5682" stop-color="#001dff"/><stop offset="0.6591" stop-color="#000eff"/><stop offset="0.7169" stop-color="#0000ff"/><stop offset="0.9979" stop-color="#0000ff"/></linearGradient>
<linearGradient id="p2_32" gradientUnits="userSpaceOnUse" x1="0" y1="20" x2="0" y2="262"><stop offset="0.002066" stop-color="#002cff"/><stop offset="0.2335" stop-color="#002aff"/><stop offset="0.4277" stop-color="#0025ff"/><stop offset="0.5682" stop-color="#001dff"/><stop offset="0.655" stop-color="#000fff"/><stop offset="0.7169" stop-color="#0000ff"/><stop offset="0.9979" stop-color="#0000ff"/></linearGradient>
<linearGradient id="p2_33" gradientUnits="userSpaceOnUse" x1="0" y1="20" x2="0" y2="262"><stop offset="0.002066" stop-color="#002bff"/><stop offset="0.2335" stop-color="#002aff"/><stop offset="0.4277" stop-color="#0025ff"/><stop offset="0.5682" stop-color="#001dff"/><stop offset="0.655" stop-color="#000fff"/><stop offset="0.7169" stop-color="#0000ff"/><stop offset="0.9979" stop-color="#0000ff"/></linearGradient>
<linearGradient id="p2_34" gradientUnits="userSpaceOnUse" x1="0" y1="20" x2="0" y2="262"><stop offset="0.002066" stop-color="#002bff"/><stop offset="0.2335" stop-color="#002aff"/><stop offset="0.4277" stop-color="#0025ff"/><stop offset="0.5682" stop-color="#001dff"/><stop offset="0.655" stop-color="#000fff"/><stop offset="0.7169" stop-color="#0000ff"/><stop offset="0.9979" stop-color="#0000ff"/></linearGradient>
<clipPath id="clip_p2"><rect x="149.55" y="20.50" width="34.70" height="241.40"/></clipPath>
<linearGradient id="p3_0" gradientUnits="userSpaceOnUse" x1="0" y1="18" x2="0" y2="264"><stop offset="0.002033" stop-color="#0000ff"/><stop offset="0.6809" stop-color="#0000ff"/><stop offset="0.685" stop-color="#0006ff"/><stop offset="0.689" stop-color="#0037ff"/><stop offset="0.6931" stop-color="#00c6fe"/><stop offset="0.6972" stop-color="#00ffa0"/><stop offset="0.7012" stop-color="#0aff19"/><stop offset="0.7053" stop-color="#78ff00"/><stop offset="0.7093" stop-color="#e8fc00"/><stop offset="0.7134" stop-color="#ffc800"/><stop offset="0.7175" stop-color="#ff9100"/><stop offset="0.7215" stop-color="#ff6300"/><stop offset="0.7256" stop-color="#ff3d00"/><stop offset="0.7297" stop-color="#ff2500"/><stop offset="0.7337" stop-color="#ff1500"/><stop offset="0.7378" stop-color="#ff0c00"/><stop offset="0.7419" stop-color="#ff0800"/><stop offset="0.998" stop-color="#ff0600"/></linearGradient>
<linearGradient id="p3_1" gradientUnits="userSpaceOnUse" x1="0" y1="18" x2="0" y2="264"><stop offset="0.002033" stop-color="#0000ff"/><stop offset="0.6809" stop-color="#0000ff"/><stop offset="0.685" stop-color="#0004ff"/><stop offset="0.689" stop-color="#002fff"/><stop offset="0.6931" stop-color="#00baff"/><stop offset="0.6972" stop-color="#00ffab"/><stop offset="0.7012" stop-color="#07ff1f"/><stop offset="0.7053" stop-color="#71ff00"/><stop offset="0.7093" stop-color="#e4fc00"/><stop offset="0.7134" stop-color="#ffca00"/><stop offset="0.7175" stop-color="#ff9200"/><stop offset="0.7215" stop-color="#ff6400"/><stop offset="0.7256" stop-color="#ff3d00"/><stop offset="0.7297" stop-color="#ff2500"/><stop offset="0.7337" stop-color="#ff1500"/><stop offset="0.7378" stop-color="#ff0c00"/><stop offset="0.7419" stop-color="#ff0800"/><stop offset="0.998" stop-color="#ff0600"/></linearGradient>
<linearGradient id="p3_2" gradientUnits="userSpaceOnUse" x1="0" y1="18" x2="0" y2="264"><stop offset="0.002033" stop-color="#0000ff"/><stop offset="0.6809" stop-color="#0000ff"/><stop offset="0.685" stop-color="#0002ff"/><stop offset="0.689" stop-color="#001cff"/><stop offset="0.6931" stop-color="#0094ff"/><stop offset="0.6972" stop-color="#00fdca"/><stop offset="0.7012" stop-color="#01ff36"/><stop offset="0.7053" stop-color="#58ff00"/><stop offset="0.7093" stop-color="#d5ff00"/><stop offset="0.7134" stop-color="#ffd400"/><stop offset="0.7175" stop-color="#ff9900"/><stop offset="0.7215" stop-color="#ff6900"/><stop offset="0.7256" stop-color="#ff4100"/><stop offset="0.7297" stop-color="#ff2600"/><stop offset="0.7337" stop-color="#ff1600"/><stop offset="0.7378" stop-color="#ff0c00"/><stop offset="0.7419" stop-color="#ff0800"/><stop offset="0.998" stop-color="#ff0600"/></linearGradient>
<linearGradient id="p3_3" gradientUnits="userSpaceOnUse" x1="0" y1="18" x2="0" y2="264"><stop offset="0.002033" stop-color="#0000ff"/><stop offset="0.685" stop-color="#0000ff"/><stop offset="0.689" stop-color="#000aff"/><stop offset="0.6931" stop-color="#0052ff"/><stop offset="0.6972" stop-color="#00e3f0"/><stop offset="0.7012" stop-color="#00ff6f"/><stop offset="0.7053" stop-color="#2bff05"/><stop offset="0.7093" stop-color="#afff00"/><stop offset="0.7134" stop-color="#fce800"/><stop offset="0.7175" stop-color="#ffa800"/><stop offset="0.7215" stop-color="#ff7500"/><stop offset="0.7256" stop-color="#ff4900"/><stop offset="0.7297" stop-color="#ff2a00"/><stop offset="0.7337" stop-color="#ff1900"/><stop offset="0.7378" stop-color="#ff0d00"/><stop offset="0.7419" stop-color="#ff0900"/><stop offset="0.75" stop-color="#ff0600"/><stop offset="0.998" stop-color="#ff0600"/></linearGradient>
<linearGradient id="p3_4" gradientUnits="userSpaceOnUse" x1="0" y1="18" x2="0" y2="264"><stop offset="0.002033" stop-color="#0000ff"/><stop offset="0.689" stop-color="#0001ff"/><stop offset="0.6931" stop-color="#0017ff"/><stop offset="0.6972" stop-color="#0088ff"/><stop offset="0.7012" stop-color="#00f9c8"/><stop offset="0.7053" stop-color="#05ff33"/><stop offset="0.7093" stop-color="#67ff00"/><stop offset="0.7134" stop-color="#e2fb00"/><stop offset="0.7175" stop-color="#ffc500"/><stop offset="0.7215" stop-color="#ff8a00"/><stop offset="0.7256" stop-color="#ff5900"/><stop offset="0.7297" stop-color="#ff3300"/><stop offset="0.7337" stop-color="#ff1e00"/><stop offset="0.7378" stop-color="#ff1000"/><stop offset="0.7459" stop-color="#ff0700"/><stop offset="0.998" stop-color="#ff0600"/></linearGradient>
<linearGradient id="p3_5" gradientUnits="userSpaceOnUse" x1="0" y1="18" x2="0" y2="264"><stop offset="0.002033" stop-color="#0000ff"/><stop offset="0.689" stop-color="#0000ff"/><stop offset="0.6931" stop-color="#0002ff"/><stop offset="0.6972" stop-color="#0021ff"/><stop offset="0.7012" stop-color="#00a4fd"/><stop offset="0.7053" stop-color="#00fda8"/><stop offset="0.7093" stop-color="#14ff1a"/><stop offset="0.7134" stop-color="#92ff00"/><stop offset="0.7175" stop-color="#f6ed00"/><stop offset="0.7215" stop-color="#ffac00"/><stop offset="0.7256" stop-color="#ff7400"/><stop offset="0.7297" stop-color="#ff4500"/><stop offset="0.7337" stop-color="#ff2700"/><stop offset="0.7378" stop-color="#ff1500"/><stop offset="0.7419" stop-color="#ff0b00"/><stop offset="0.7459" stop-color="#ff0800"/><stop offset="0.998" stop-color="#ff0600"/></linearGradient>
<linearGradient id="p3_6" gradientUnits="userSpaceOnUse" x1="0" y1="18" x2="0" y2="264"><stop offset="0.002033" stop-color="#0000ff"/><stop offset="0.6931" stop-color="#0000ff"/><stop offset="0.6972" stop-color="#0002ff"/><stop offset="0.7012" stop-color="#0023ff"/><stop offset="0.7053" stop-color="#00a8fa"/><stop offset="0.7093" stop-color="#00fd9a"/><stop offset="0.7134" stop-color="#22ff13"/><stop offset="0.7175" stop-color="#aaff00"/><stop offset="0.7215" stop-color="#fbdf00"/><stop offset="0.7256" stop-color="#ff9b00"/><stop offset="0.7297" stop-color="#ff6400"/><stop offset="0.7337" stop-color="#ff3800"/><stop offset="0.7378" stop-color="#ff1e00"/><stop offset="0.7419" stop-color="#ff0f00"/><stop offset="0.7459" stop-color="#ff0900"/><stop offset="0.7541" stop-color="#ff0600"/><stop offset="0.998" stop-color="#ff0600"/></linearGradient>
<linearGradient id="p3_7" gradientUnits="userSpaceOnUse" x1="0" y1="18" x2="0" y2="264"><stop offset="0.002033" stop-color="#0000ff"/><stop offset="0.7012" stop-color="#0001ff"/><stop offset="0.7053" stop-color="#001dff"/><stop offset="0.7093" stop-color="#00a0fa"/><stop offset="0.7134" stop-color="#00fc99"/><stop offset="0.7175" stop-color="#2aff11"/><stop offset="0.7215" stop-color="#b7fe00"/><stop offset="0.7256" stop-color="#fdd500"/><stop offset="0.7297" stop-color="#ff8f00"/><stop offset="0.7337" stop-color="#ff5700"/><stop offset="0.7378" stop-color="#ff2e00"/><stop offset="0.7419" stop-color="#ff1800"/><stop offset="0.7459" stop-color="#ff0c00"/><stop offset="0.75" stop-color="#ff0800"/><stop offset="0.998" stop-color="#ff0600"/></linearGradient>
<linearGradient id="p3_8" gradientUnits="userSpaceOnUse" x1="0" y1="18" x2="0" y2="264"><stop offset="0.002033" stop-color="#0000ff"/><stop offset="0.7053" stop-color="#0001ff"/><stop offset="0.7093" stop-color="#0017ff"/><stop offset="0.7134" stop-color="#0097fc"/><stop offset="0.7175" stop-color="#00fc9a"/><stop offset="0.7215" stop-color="#2fff0f"/><stop offset="0.7256" stop-color="#c3fc00"/><stop offset="0.7297" stop-color="#feca00"/><stop offset="0.7337" stop-color="#ff8300"/><stop offset="0.7378" stop-color="#ff4b00"/><stop offset="0.7419" stop-color="#ff2600"/><stop offset="0.7459" stop-color="#ff1300"/><stop offset="0.75" stop-color="#ff0a00"/><stop offset="0.7581" stop-color="#ff0600"/><stop offset="0.998" stop-color="#ff0600"/></linearGradient>
<linearGradient id="p3_9" gradientUnits="userSpaceOnUse" x1="0" y1="18" x2="0" y2="264"><stop offset="0.002033" stop-color="#0000ff"/><stop offset="0.7093" stop-color="#0000ff"/><stop offset="0.7134" stop-color="#0015ff"/><stop offset="0.7175" stop-color="#0099fb"/><stop offset="0.7215" stop-color="#00fd8f"/><stop offset="0.7256" stop-color="#3dff09"/><stop offset="0.7297" stop-color="#d5f900"/><stop offset="0.7337" stop-color="#ffba00"/><stop offset="0.7378" stop-color="#ff7400"/><stop offset="0.7419" stop-color="#ff3d00"/><stop offset="0.7459" stop-color="#ff1e00"/><stop offset="0.75" stop-color="#ff0e00"/><stop offset="0.7541" stop-color="#ff0800"/><stop offset="0.998" stop-color="#ff0600"/></linearGradient>
<linearGradient id="p3_10" gradientUnits="userSpaceOnUse" x1="0" y1="18" x2="0" y2="264"><stop offset="0.002033" stop-color="#0000ff"/><stop offset="0.7134" stop-color="#0000ff"/><stop offset="0.7175" stop-color="#001cff"/><stop offset="0.7215" stop-color="#00b6f6"/><stop offset="0.7256" stop-color="#02ff69"/><stop offset="0.7297" stop-color="#63ff01"/><stop offset="0.7337" stop-color="#efee00"/><stop offset="0.7378" stop-color="#ffa000"/><stop offset="0.7419" stop-color="#ff5d00"/><stop offset="0.7459" stop-color="#ff2e00"/><stop offset="0.75" stop-color="#ff1500"/><stop offset="0.7541" stop-color="#ff0a00"/><stop offset="0.7581" stop-color="#ff0700"/><stop offset="0.998" stop-color="#ff0600"/></linearGradient>
<linearGradient id="p3_11" gradientUnits="userSpaceOnUse" x1="0" y1="18" x2="0" y2="264"><stop offset="0.002033" stop-color="#0000ff"/><stop offset="0.7134" stop-color="#0000ff"/><stop offset="0.7175" stop-color="#0002ff"/><stop offset="0.7215" stop-color="#0042ff"/><stop offset="0.7256" stop-color="#00ebd6"/><stop offset="0.7297" stop-color="#13ff24"/><stop offset="0.7337" stop-color="#b1ff00"/><stop offset="0.7378" stop-color="#ffcb00"/><stop offset="0.7419" stop-color="#ff7c00"/><stop offset="0.7459" stop-color="#ff4000"/><stop offset="0.75" stop-color="#ff1e00"/><stop offset="0.7541" stop-color="#ff0d00"/><stop offset="0.7581" stop-color="#ff0700"/><stop offset="0.998" stop-color="#ff0600"/></linearGradient>
<linearGradient id="p3_12" gradientUnits="userSpaceOnUse" x1="0" y1="18" x2="0" y2="264"><stop offset="0.002033" stop-color="#0000ff"/><stop offset="0.7175" stop-color="#0000ff"/><stop offset="0.7215" stop-color="#0016ff"/><stop offset="0.7256" stop-color="#00baf9"/><stop offset="0.7297" stop-color="#01ff5a"/><stop offset="0.7337" stop-color="#77ff00"/><stop offset="0.7378" stop-color="#f9e500"/><stop offset="0.7419" stop-color="#ff9000"/><stop offset="0.7459" stop-color="#ff4e00"/><stop offset="0.75" stop-color="#ff2400"/><stop offset="0.7541" stop-color="#ff1000"/><stop offset="0.7581" stop-color="#ff0800"/><stop offset="0.998" stop-color="#ff0600"/></linearGradient>
<linearGradient id="p3_13" gradientUnits="userSpaceOnUse" x1="0" y1="18" x2="0" y2="264"><stop offset="0.002033" stop-color="#0000ff"/><stop offset="0.7175" stop-color="#0000ff"/><stop offset="0.7215" stop-color="#000fff"/><stop offset="0.7256" stop-color="#00a9fe"/><stop offset="0.7297" stop-color="#00ff6d"/><stop offset="0.7337" stop-color="#66ff00"/><stop offset="0.7378" stop-color="#f6eb00"/><stop offset="0.7419" stop-color="#ff9600"/><stop offset="0.7459" stop-color="#ff5200"/><stop offset="0.75" stop-color="#ff2600"/><stop offset="0.7541" stop-color="#ff1100"/><stop offset="0.7581" stop-color="#ff0800"/><stop offset="0.7622" stop-color="#ff0600"/><stop offset="0.998" stop-color="#ff0600"/></linearGradient>
<linearGradient id="p3_14" gradientUnits="userSpaceOnUse" x1="0" y1="18" x2="0" y2="264"><stop offset="0.002033" stop-color="#0000ff"/><stop offset="0.998" stop-color="#0000ff"/></linearGradient>
<linearGradient id="p3_21" gradientUnits="userSpaceOnUse" x1="0" y1="18" x2="0" y2="264"><stop offset="0.002033" stop-color="#0000ff"/><stop offset="0.7175" stop-color="#0000ff"/><stop offset="0.7215" stop-color="#000bff"/><stop offset="0.7256" stop-color="#007ffe"/><stop offset="0.7297" stop-color="#00bf92"/><stop offset="0.7337" stop-color="#4cbf40"/><stop offset="0.7378" stop-color="#b8b040"/><stop offset="0.7419" stop-color="#bf7140"/><stop offset="0.7459" stop-color="#bf3e40"/><stop offset="0.75" stop-color="#bf1c40"/><stop offset="0.7541" stop-color="#bf0c40"/><stop offset="0.7622" stop-color="#bf0540"/><stop offset="0.998" stop-color="#bf0440"/></linearGradient>
<linearGradient id="p3_22" gradientUnits="userSpaceOnUse" x1="0" y1="18" x2="0" y2="264"><stop offset="0.002033" stop-color="#0000ff"/><stop offset="0.7175" stop-color="#0000ff"/><stop offset="0.7215" stop-color="#0014ff"/><stop offset="0.7256" stop-color="#00b7fa"/><stop offset="0.7297" stop-color="#00ff5e"/><stop offset="0.7337" stop-color="#73ff00"/><stop offset="0.7378" stop-color="#f8e600"/><stop offset="0.7419" stop-color="#ff9200"/><stop offset="0.7459" stop-color="#ff4f00"/><stop offset="0.75" stop-color="#ff2400"/><stop offset="0.7541" stop-color="#ff1000"/><stop offset="0.7581" stop-color="#ff0800"/><stop offset="0.7622" stop-color="#ff0600"/><stop offset="0.998" stop-color="#ff0600"/></linearGradient>
<linearGradient id="p3_23" gradientUnits="userSpaceOnUse" x1="0" y1="18" x2="0" y2="264"><stop offset="0.002033" stop-color="#0000ff"/><stop offset="0.7134" stop-color="#0000ff"/><stop offset="0.7175" stop-color="#0002ff"/><stop offset="0.7215" stop-color="#003aff"/><stop offset="0.7256" stop-color="#00e7dc"/><stop offset="0.7297" stop-color="#10ff2a"/><stop offset="0.7337" stop-color="#aaff00"/><stop offset="0.7378" stop-color="#ffce00"/><stop offset="0.7419" stop-color="#ff7f00"/><stop offset="0.7459" stop-color="#ff4200"/><stop offset="0.75" stop-color="#ff1f00"/><stop offset="0.7541" stop-color="#ff0d00"/><stop offset="0.7581" stop-color="#ff0800"/><stop offset="0.998" stop-color="#ff0600"/></linearGradient>
<linearGradient id="p3_24" gradientUnits="userSpaceOnUse" x1="0" y1="18" x2="0" y2="264"><stop offset="0.002033" stop-color="#0000ff"/><stop offset="0.7134" stop-color="#0000ff"/><stop offset="0.7175" stop-color="#0016ff"/><stop offset="0.7215" stop-color="#00a9f9"/><stop offset="0.7256" stop-color="#01ff76"/><stop offset="0.7297" stop-color="#57ff03"/><stop offset="0.7337" stop-color="#ebf100"/><stop offset="0.7378" stop-color="#ffa500"/><stop offset="0.7419" stop-color="#ff6100"/><stop offset="0.7459" stop-color="#ff2f00"/><stop offset="0.75" stop-color="#ff1600"/><stop offset="0.7541" stop-color="#ff0a00"/><stop offset="0.7581" stop-color="#ff0700"/><stop offset="0.998" stop-color="#ff0600"/></linearGradient>
<linearGradient id="p3_25" gradientUnits="userSpaceOnUse" x1="0" y1="18" x2="0" y2="264"><stop offset="0.002033" stop-color="#0000ff"/><stop offset="0.7093" stop-color="#0000ff"/><stop offset="0.7134" stop-color="#0010ff"/><stop offset="0.7175" stop-color="#0088fd"/><stop offset="0.7215" stop-color="#00fb9f"/><stop offset="0.7256" stop-color="#32ff0e"/><stop offset="0.7297" stop-color="#ccfb00"/><stop offset="0.7337" stop-color="#ffc000"/><stop offset="0.7378" stop-color="#ff7800"/><stop offset="0.7419" stop-color="#ff4000"/><stop offset="0.7459" stop-color="#ff1f00"/><stop offset="0.75" stop-color="#ff0f00"/><stop offset="0.7541" stop-color="#ff0800"/><stop offset="0.998" stop-color="#ff0600"/></linearGradient>
<linearGradient id="p3_26" gradientUnits="userSpaceOnUse" x1="0" y1="18" x2="0" y2="264"><stop offset="0.002033" stop-color="#0000ff"/><stop offset="0.7053" stop-color="#0000ff"/><stop offset="0.7093" stop-color="#0011ff"/><stop offset="0.7134" stop-color="#0085fd"/><stop offset="0.7175" stop-color="#00f8a9"/><stop offset="0.7215" stop-color="#25ff16"/><stop offset="0.7256" stop-color="#b7fe00"/><stop offset="0.7297" stop-color="#fed000"/><stop offset="0.7337" stop-color="#ff8800"/><stop offset="0.7378" stop-color="#ff4f00"/><stop offset="0.7419" stop-color="#ff2800"/><stop offset="0.7459" stop-color="#ff1400"/><stop offset="0.75" stop-color="#ff0a00"/><stop offset="0.7581" stop-color="#ff0600"/><stop offset="0.998" stop-color="#ff0600"/></linearGradient>
<linearGradient id="p3_27" gradientUnits="userSpaceOnUse" x1="0" y1="18" x2="0" y2="264"><stop offset="0.002033" stop-color="#0000ff"/><stop offset="0.7012" stop-color="#0001ff"/><stop offset="0.7053" stop-color="#0016ff"/><stop offset="0.7093" stop-color="#008ffd"/><stop offset="0.7134" stop-color="#00f9a9"/><stop offset="0.7175" stop-color="#20ff18"/><stop offset="0.7215" stop-color="#abfe00"/><stop offset="0.7256" stop-color="#fbda00"/><stop offset="0.7297" stop-color="#ff9400"/><stop offset="0.7337" stop-color="#ff5b00"/><stop offset="0.7378" stop-color="#ff3000"/><stop offset="0.7419" stop-color="#ff1900"/><stop offset="0.7459" stop-color="#ff0d00"/><stop offset="0.75" stop-color="#ff0800"/><stop offset="0.998" stop-color="#ff0600"/></linearGradient>
<linearGradient id="p3_28" gradientUnits="userSpaceOnUse" x1="0" y1="18" x2="0" y2="264"><stop offset="0.002033" stop-color="#0000ff"/><stop offset="0.6972" stop-color="#0001ff"/><stop offset="0.7012" stop-color="#001bff"/><stop offset="0.7053" stop-color="#0098fd"/><stop offset="0.7093" stop-color="#00fba9"/><stop offset="0.7134" stop-color="#19ff19"/><stop offset="0.7175" stop-color="#9eff00"/><stop offset="0.7215" stop-color="#f9e500"/><stop offset="0.7256" stop-color="#ffa000"/><stop offset="0.7297" stop-color="#ff6800"/><stop offset="0.7337" stop-color="#ff3a00"/><stop offset="0.7378" stop-color="#ff2000"/><stop offset="0.7419" stop-color="#ff1000"/><stop offset="0.75" stop-color="#ff0700"/><stop offset="0.998" stop-color="#ff0600"/></linearGradient>
<linearGradient id="p3_29" gradientUnits="userSpaceOnUse" x1="0" y1="18" x2="0" y2="264"><stop offset="0.002033" stop-color="#0000ff"/><stop offset="0.6931" stop-color="#0001ff"/><stop offset="0.6972" stop-color="#001bff"/><stop offset="0.7012" stop-color="#0095fe"/><stop offset="0.7053" stop-color="#00fbb5"/><stop offset="0.7093" stop-color="#0fff22"/><stop offset="0.7134" stop-color="#87ff00"/><stop offset="0.7175" stop-color="#f2f100"/><stop offset="0.7215" stop-color="#ffb000"/><stop offset="0.7256" stop-color="#ff7800"/><stop offset="0.7297" stop-color="#ff4800"/><stop offset="0.7337" stop-color="#ff2800"/><stop offset="0.7378" stop-color="#ff1600"/><stop offset="0.7419" stop-color="#ff0c00"/><stop offset="0.7459" stop-color="#ff0800"/><stop offset="0.998" stop-color="#ff0600"/></linearGradient>
<linearGradient id="p3_30" gradientUnits="userSpaceOnUse" x1="0" y1="18" x2="0" y2="264"><stop offset="0.002033" stop-color="#0000ff"/><stop offset="0.689" stop-color="#0001ff"/><stop offset="0.6931" stop-color="#0013ff"/><stop offset="0.6972" stop-color="#007cff"/><stop offset="0.7012" stop-color="#00f6d1"/><stop offset="0.7053" stop-color="#03ff3c"/><stop offset="0.7093" stop-color="#5eff00"/><stop offset="0.7134" stop-color="#ddfc00"/><stop offset="0.7175" stop-color="#ffc900"/><stop offset="0.7215" stop-color="#ff8d00"/><stop offset="0.7256" stop-color="#ff5c00"/><stop offset="0.7297" stop-color="#ff3500"/><stop offset="0.7337" stop-color="#ff1e00"/><stop offset="0.7378" stop-color="#ff1000"/><stop offset="0.7459" stop-color="#ff0700"/><stop offset="0.998" stop-color="#ff0600"/></linearGradient>
<linearGradient id="p3_31" gradientUnits="userSpaceOnUse" x1="0" y1="18" x2="0" y2="264"><stop offset="0.002033" stop-color="#0000ff"/><stop offset="0.685" stop-color="#0000ff"/><stop offset="0.689" stop-color="#0008ff"/><stop offset="0.6931" stop-color="#004bff"/><stop offset="0.6972" stop-color="#00ddf3"/><stop offset="0.7012" stop-color="#00ff77"/><stop offset="0.7053" stop-color="#26ff07"/><stop offset="0.7093" stop-color="#a9ff00"/><stop offset="0.7134" stop-color="#fbea00"/><stop offset="0.7175" stop-color="#ffab00"/><stop offset="0.7215" stop-color="#ff7700"/><stop offset="0.7256" stop-color="#ff4a00"/><stop offset="0.7297" stop-color="#ff2b00"/><stop offset="0.7337" stop-color="#ff1900"/><stop offset="0.7378" stop-color="#ff0e00"/><stop offset="0.7419" stop-color="#ff0900"/><stop offset="0.75" stop-color="#ff0600"/><stop offset="0.998" stop-color="#ff0600"/></linearGradient>
<linearGradient id="p3_32" gradientUnits="userSpaceOnUse" x1="0" y1="18" x2="0" y2="264"><stop offset="0.002033" stop-color="#0000ff"/><stop offset="0.685" stop-color="#0001ff"/><stop offset="0.689" stop-color="#001aff"/><stop offset="0.6931" stop-color="#008eff"/><stop offset="0.6972" stop-color="#00fcce"/><stop offset="0.7012" stop-color="#01ff3a"/><stop offset="0.7053" stop-color="#55ff00"/><stop offset="0.7093" stop-color="#d3ff00"/><stop offset="0.7134" stop-color="#ffd600"/><stop offset="0.7175" stop-color="#ff9a00"/><stop offset="0.7215" stop-color="#ff6a00"/><stop offset="0.7256" stop-color="#ff4100"/><stop offset="0.7297" stop-color="#ff2600"/><stop offset="0.7337" stop-color="#ff1600"/><stop offset="0.7378" stop-color="#ff0c00"/><stop offset="0.7419" stop-color="#ff0800"/><stop offset="0.998" stop-color="#ff0600"/></linearGradient>
<linearGradient id="p3_33" gradientUnits="userSpaceOnUse" x1="0" y1="18" x2="0" y2="264"><stop offset="0.002033" stop-color="#0000ff"/><stop offset="0.6809" stop-color="#0000ff"/><stop offset="0.685" stop-color="#0004ff"/><stop offset="0.689" stop-color="#002dff"/><stop offset="0.6931" stop-color="#00b8ff"/><stop offset="0.6972" stop-color="#00ffad"/><stop offset="0.7012" stop-color="#07ff20"/><stop offset="0.7053" stop-color="#70ff00"/><stop offset="0.7093" stop-color="#e3fd00"/><stop offset="0.7134" stop-color="#ffcb00"/><stop offset="0.7175" stop-color="#ff9300"/><stop offset="0.7215" stop-color="#ff6500"/><stop offset="0.7256" stop-color="#ff3d00"/><stop offset="0.7297" stop-color="#ff2500"/><stop offset="0.7337" stop-color="#ff1500"/><stop offset="0.7378" stop-color="#ff0c00"/><stop offset="0.7419" stop-color="#ff0800"/><stop offset="0.998" stop-color="#ff0600"/></linearGradient>
<linearGradient id="p3_34" gradientUnits="userSpaceOnUse" x1="0" y1="18" x2="0" y2="264"><stop offset="0.002033" stop-color="#0000ff"/><stop offset="0.6809" stop-color="#0000ff"/><stop offset="0.685" stop-color="#0006ff"/><stop offset="0.689" stop-color="#0036ff"/><stop offset="0.6931" stop-color="#00c6fe"/><stop offset="0.6972" stop-color="#00ffa1"/><stop offset="0.7012" stop-color="#0aff19"/><stop offset="0.7053" stop-color="#78ff00"/><stop offset="0.7093" stop-color="#e8fc00"/><stop offset="0.7134" stop-color="#ffc800"/><stop offset="0.7175" stop-color="#ff9100"/><stop offset="0.7215" stop-color="#ff6300"/><stop offset="0.7256" stop-color="#ff3d00"/><stop offset="0.7297" stop-color="#ff2500"/><stop offset="0.7337" stop-color="#ff1500"/><stop offset="0.7378" stop-color="#ff0c00"/><stop offset="0.7419" stop-color="#ff0800"/><stop offset="0.998" stop-color="#ff0600"/></linearGradient>
<clipPath id="clip_p3"><rect x="441.85" y="18.80" width="34.90" height="245.50"/></clipPath>
<linearGradient id="p4_0" gradientUnits="userSpaceOnUse" x1="0" y1="18" x2="0" y2="264"><stop offset="0.002033" stop-color="#0000ff"/><stop offset="0.5467" stop-color="#0000ff"/><stop offset="0.5508" stop-color="#0003ff"/><stop offset="0.5549" stop-color="#000eff"/><stop offset="0.5589" stop-color="#002bff"/><stop offset="0.563" stop-color="#006fff"/><stop offset="0.5671" stop-color="#00c6ff"/><stop offset="0.5711" stop-color="#00fce3"/><stop offset="0.5752" stop-color="#00ff97"/><stop offset="0.5793" stop-color="#00ff45"/><stop offset="0.5833" stop-color="#18ff09"/><stop offset="0.5874" stop-color="#70ff00"/><stop offset="0.5915" stop-color="#c4ff00"/><stop offset="0.5955" stop-color="#f2f400"/><stop offset="0.5996" stop-color="#fee000"/><stop offset="0.6077" stop-color="#ffb600"/><stop offset="0.6118" stop-color="#ffa600"/><stop offset="0.624" stop-color="#ff8100"/><stop offset="0.6443" stop-color="#ff3600"/><stop offset="0.6565" stop-color="#ff1b00"/><stop offset="0.6646" stop-color="#ff0f00"/><stop offset="0.6728" stop-color="#ff0900"/><stop offset="0.685" stop-color="#ff0600"/><stop offset="0.998" stop-color="#ff0600"/></linearGradient>
<linearGradient id="p4_1" gradientUnits="userSpaceOnUse" x1="0" y1="18" x2="0" y2="264"><stop offset="0.002033" stop-color="#0000ff"/><stop offset="0.5508" stop-color="#0000ff"/><stop offset="0.5549" stop-color="#0004ff"/><stop offset="0.5589" stop-color="#0010ff"/><stop offset="0.563" stop-color="#0032ff"/><stop offset="0.5671" stop-color="#0079ff"/><stop offset="0.5711" stop-color="#00cefe"/><stop offset="0.5752" stop-color="#00fdde"/><stop offset="0.5793" stop-color="#00ff95"/><stop offset="0.5833" stop-color="#00ff4e"/><stop offset="0.5874" stop-color="#09ff16"/><stop offset="0.5915" stop-color="#3eff01"/><stop offset="0.5955" stop-color="#82ff00"/><stop offset="0.5996" stop-color="#b3ff00"/><stop offset="0.6037" stop-color="#d8fe00"/><stop offset="0.6077" stop-color="#f1f500"/><stop offset="0.6118" stop-color="#fde700"/><stop offset="0.6362" stop-color="#ff7e00"/><stop offset="0.6524" stop-color="#ff3e00"/><stop offset="0.6606" stop-color="#ff2700"/><stop offset="0.6687" stop-color="#ff1800"/><stop offset="0.6809" stop-color="#ff0a00"/><stop offset="0.6931" stop-color="#ff0600"/><stop offset="0.998" stop-color="#ff0600"/></linearGradient>
<linearGradient id="p4_2" gradientUnits="userSpaceOnUse" x1="0" y1="18" x2="0" y2="264"><stop offset="0.002033" stop-color="#0000ff"/><stop offset="0.5549" stop-color="#0000ff"/><stop offset="0.5589" stop-color="#0005ff"/><stop offset="0.563" stop-color="#0012ff"/><stop offset="0.5671" stop-color="#0038ff"/><stop offset="0.5711" stop-color="#007fff"/><stop offset="0.5752" stop-color="#00cefe"/><stop offset="0.5793" stop-color="#00fbe5"/><stop offset="0.5833" stop-color="#00ffab"/><stop offset="0.5874" stop-color="#00ff70"/><stop offset="0.5915" stop-color="#00ff3b"/><stop offset="0.5955" stop-color="#0aff16"/><stop offset="0.5996" stop-color="#25ff05"/><stop offset="0.6037" stop-color="#50ff00"/><stop offset="0.6077" stop-color="#82ff00"/><stop offset="0.6118" stop-color="#aeff00"/><stop offset="0.6159" stop-color="#d3ff00"/><stop offset="0.6199" stop-color="#ecf900"/><stop offset="0.624" stop-color="#faef00"/><stop offset="0.628" stop-color="#ffdd00"/><stop offset="0.6402" stop-color="#ffa000"/><stop offset="0.6646" stop-color="#ff3c00"/><stop offset="0.6728" stop-color="#ff2400"/><stop offset="0.6809" stop-color="#ff1300"/><stop offset="0.6931" stop-color="#ff0700"/><stop offset="0.998" stop-color="#ff0600"/></linearGradient>
<linearGradient id="p4_3" gradientUnits="userSpaceOnUse" x1="0" y1="18" x2="0" y2="264"><stop offset="0.002033" stop-color="#0000ff"/><stop offset="0.5589" stop-color="#0000ff"/><stop offset="0.563" stop-color="#0006ff"/><stop offset="0.5671" stop-color="#0014ff"/><stop offset="0.5711" stop-color="#0037ff"/><stop offset="0.5752" stop-color="#0073ff"/><stop offset="0.5793" stop-color="#00b7ff"/><stop offset="0.5833" stop-color="#00ecf7"/><stop offset="0.5874" stop-color="#00fed4"/><stop offset="0.5915" stop-color="#00ffa5"/><stop offset="0.6037" stop-color="#00ff34"/><stop offset="0.6077" stop-color="#0bff15"/><stop offset="0.6118" stop-color="#27ff04"/><stop offset="0.6199" stop-color="#81ff00"/><stop offset="0.628" stop-color="#ccff00"/><stop offset="0.6321" stop-color="#e9fb00"/><stop offset="0.6362" stop-color="#f9ef00"/><stop offset="0.6402" stop-color="#ffde00"/><stop offset="0.6484" stop-color="#ffb500"/><stop offset="0.6768" stop-color="#ff3600"/><stop offset="0.689" stop-color="#ff1300"/><stop offset="0.6972" stop-color="#ff0700"/><stop offset="0.998" stop-color="#ff0600"/></linearGradient>
<linearGradient id="p4_4" gradientUnits="userSpaceOnUse" x1="0" y1="18" x2="0" y2="264"><stop offset="0.002033" stop-color="#0000ff"/><stop offset="0.563" stop-color="#0000ff"/><stop offset="0.5671" stop-color="#0006ff"/><stop offset="0.5711" stop-color="#0012ff"/><stop offset="0.5752" stop-color="#0029ff"/><stop offset="0.5793" stop-color="#0055ff"/><stop offset="0.5874" stop-color="#00c0ff"/><stop offset="0.5915" stop-color="#00e6f9"/><stop offset="0.5955" stop-color="#00f8e7"/><stop offset="0.5996" stop-color="#00ffcb"/><stop offset="0.6037" stop-color="#00ffa6"/><stop offset="0.6159" stop-color="#01ff30"/><stop offset="0.6199" stop-color="#0eff12"/><stop offset="0.624" stop-color="#2aff03"/><stop offset="0.6362" stop-color="#a0ff00"/><stop offset="0.6402" stop-color="#c3ff00"/><stop offset="0.6443" stop-color="#dffd00"/><stop offset="0.6484" stop-color="#f2f500"/><stop offset="0.6524" stop-color="#fce700"/><stop offset="0.6565" stop-color="#ffd500"/><stop offset="0.685" stop-color="#ff3c00"/><stop offset="0.6931" stop-color="#ff1a00"/><stop offset="0.6972" stop-color="#ff0c00"/><stop offset="0.7012" stop-color="#ff0700"/><stop offset="0.998" stop-color="#ff0600"/></linearGradient>
<linearGradient id="p4_5" gradientUnits="userSpaceOnUse" x1="0" y1="18" x2="0" y2="264"><stop offset="0.002033" stop-color="#0000ff"/><stop offset="0.5671" stop-color="#0000ff"/><stop offset="0.5752" stop-color="#000bff"/><stop offset="0.5793" stop-color="#0018ff"/><stop offset="0.5833" stop-color="#0030ff"/><stop offset="0.5996" stop-color="#00bfff"/><stop offset="0.6037" stop-color="#00e1fa"/><stop offset="0.6077" stop-color="#00f6ea"/><stop offset="0.6118" stop-color="#00ffcd"/><stop offset="0.6159" stop-color="#00ffa8"/><stop offset="0.628" stop-color="#01ff34"/><stop offset="0.6321" stop-color="#0bff18"/><stop offset="0.6362" stop-color="#20ff07"/><stop offset="0.6402" stop-color="#3eff00"/><stop offset="0.6484" stop-color="#82ff00"/><stop offset="0.6606" stop-color="#defc00"/><stop offset="0.6646" stop-color="#f2f100"/><stop offset="0.6687" stop-color="#fddf00"/><stop offset="0.685" stop-color="#ff7400"/><stop offset="0.6972" stop-color="#ff1f00"/><stop offset="0.7012" stop-color="#ff0e00"/><stop offset="0.7053" stop-color="#ff0700"/><stop offset="0.998" stop-color="#ff0600"/></linearGradient>
<linearGradient id="p4_6" gradientUnits="userSpaceOnUse" x1="0" y1="18" x2="0" y2="264"><stop offset="0.002033" stop-color="#0000ff"/><stop offset="0.5752" stop-color="#0001ff"/><stop offset="0.5874" stop-color="#0014ff"/><stop offset="0.5955" stop-color="#0030ff"/><stop offset="0.5996" stop-color="#004aff"/><stop offset="0.6037" stop-color="#006bff"/><stop offset="0.6118" stop-color="#00b7ff"/><stop offset="0.6159" stop-color="#00d8fc"/><stop offset="0.6199" stop-color="#00efef"/><stop offset="0.624" stop-color="#00fbd9"/><stop offset="0.628" stop-color="#00ffba"/><stop offset="0.6362" stop-color="#00ff70"/><stop offset="0.6443" stop-color="#02ff31"/><stop offset="0.6484" stop-color="#0aff1c"/><stop offset="0.6524" stop-color="#18ff0e"/><stop offset="0.6565" stop-color="#2dff05"/><stop offset="0.6606" stop-color="#4dff00"/><stop offset="0.6728" stop-color="#ccfe00"/><stop offset="0.6768" stop-color="#ecf400"/><stop offset="0.6809" stop-color="#fcde00"/><stop offset="0.689" stop-color="#ff9c00"/><stop offset="0.6931" stop-color="#ff7500"/><stop offset="0.6972" stop-color="#ff4900"/><stop offset="0.7012" stop-color="#ff2400"/><stop offset="0.7053" stop-color="#ff0e00"/><stop offset="0.7093" stop-color="#ff0700"/><stop offset="0.998" stop-color="#ff0600"/></linearGradient>
<linearGradient id="p4_7" gradientUnits="userSpaceOnUse" x1="0" y1="18" x2="0" y2="264"><stop offset="0.002033" stop-color="#0000ff"/><stop offset="0.5833" stop-color="#0001ff"/><stop offset="0.5915" stop-color="#0005ff"/><stop offset="0.5996" stop-color="#0010ff"/><stop offset="0.6037" stop-color="#0019ff"/><stop offset="0.6077" stop-color="#002aff"/><stop offset="0.6159" stop-color="#005aff"/><stop offset="0.624" stop-color="#0097ff"/><stop offset="0.628" stop-color="#00baff"/><stop offset="0.6321" stop-color="#00d9fa"/><stop offset="0.6362" stop-color="#00efec"/><stop offset="0.6402" stop-color="#00fad8"/><stop offset="0.6484" stop-color="#00ffa6"/><stop offset="0.6565" stop-color="#00ff70"/><stop offset="0.6646" stop-color="#03ff31"/><stop offset="0.6687" stop-color="#11ff17"/><stop offset="0.6728" stop-color="#2dff06"/><stop offset="0.6768" stop-color="#5bff00"/><stop offset="0.685" stop-color="#cefd00"/><stop offset="0.689" stop-color="#f2ec00"/><stop offset="0.6931" stop-color="#ffc600"/><stop offset="0.7012" stop-color="#ff5a00"/><stop offset="0.7053" stop-color="#ff2a00"/><stop offset="0.7093" stop-color="#ff1200"/><stop offset="0.7134" stop-color="#ff0900"/><stop offset="0.7175" stop-color="#ff0600"/><stop offset="0.998" stop-color="#ff0600"/></linearGradient>
<linearGradient id="p4_8" gradientUnits="userSpaceOnUse" x1="0" y1="18" x2="0" y2="264"><stop offset="0.002033" stop-color="#0000ff"/><stop offset="0.5996" stop-color="#0001ff"/><stop offset="0.6159" stop-color="#0012ff"/><stop offset="0.624" stop-color="#0025ff"/><stop offset="0.628" stop-color="#0036ff"/><stop offset="0.6321" stop-color="#004fff"/><stop offset="0.6443" stop-color="#00a6ff"/><stop offset="0.6524" stop-color="#00d4fa"/><stop offset="0.6565" stop-color="#00e7f1"/><stop offset="0.6606" stop-color="#00f5e1"/><stop offset="0.6646" stop-color="#00fdc9"/><stop offset="0.6687" stop-color="#00ffa7"/><stop offset="0.6768" stop-color="#00ff52"/><stop offset="0.6809" stop-color="#0aff28"/><stop offset="0.685" stop-color="#2aff0b"/><stop offset="0.689" stop-color="#65ff00"/><stop offset="0.6931" stop-color="#b2fe00"/><stop offset="0.6972" stop-color="#efea00"/><stop offset="0.7012" stop-color="#ffb300"/><stop offset="0.7053" stop-color="#ff7000"/><stop offset="0.7093" stop-color="#ff3a00"/><stop offset="0.7134" stop-color="#ff1b00"/><stop offset="0.7175" stop-color="#ff0b00"/><stop offset="0.7215" stop-color="#ff0600"/><stop offset="0.998" stop-color="#ff0600"/></linearGradient>
<linearGradient id="p4_9" gradientUnits="userSpaceOnUse" x1="0" y1="18" x2="0" y2="264"><stop offset="0.002033" stop-color="#0000ff"/><stop offset="0.6199" stop-color="#0002ff"/><stop offset="0.628" stop-color="#0007ff"/><stop offset="0.6362" stop-color="#0012ff"/><stop offset="0.6443" stop-color="#0026ff"/><stop offset="0.6524" stop-color="#0042ff"/><stop offset="0.6565" stop-color="#0057ff"/><stop offset="0.6606" stop-color="#0071ff"/><stop offset="0.6687" stop-color="#00b2ff"/><stop offset="0.6728" stop-color="#00d3f9"/><stop offset="0.6768" stop-color="#00ece8"/><stop offset="0.6809" stop-color="#00fbc9"/><stop offset="0.685" stop-color="#00ff97"/><stop offset="0.689" stop-color="#00ff59"/><stop offset="0.6931" stop-color="#12ff23"/><stop offset="0.6972" stop-color="#4eff04"/><stop offset="0.7012" stop-color="#b4fc00"/><stop offset="0.7053" stop-color="#f6d700"/><stop offset="0.7093" stop-color="#ff9100"/><stop offset="0.7134" stop-color="#ff5000"/><stop offset="0.7175" stop-color="#ff2100"/><stop offset="0.7215" stop-color="#ff0b00"/><stop offset="0.7256" stop-color="#ff0600"/><stop offset="0.998" stop-color="#ff0600"/></linearGradient>
<linearGradient id="p4_10" gradientUnits="userSpaceOnUse" x1="0" y1="18" x2="0" y2="264"><stop offset="0.002033" stop-color="#0000ff"/><stop offset="0.628" stop-color="#0000ff"/><stop offset="0.6443" stop-color="#0003ff"/><stop offset="0.6606" stop-color="#0010ff"/><stop offset="0.6687" stop-color="#0025ff"/><stop offset="0.6728" stop-color="#003aff"/><stop offset="0.6768" stop-color="#0056ff"/><stop offset="0.6809" stop-color="#007cff"/><stop offset="0.685" stop-color="#00acfe"/><stop offset="0.689" stop-color="#00d8f1"/><stop offset="0.6931" stop-color="#00f6cd"/><stop offset="0.6972" stop-color="#00ff89"/><stop offset="0.7012" stop-color="#0bff38"/><stop offset="0.7053" stop-color="#52ff08"/><stop offset="0.7093" stop-color="#d0f300"/><stop offset="0.7134" stop-color="#feae00"/><stop offset="0.7175" stop-color="#ff5a00"/><stop offset="0.7215" stop-color="#ff2100"/><stop offset="0.7256" stop-color="#ff0c00"/><stop offset="0.7297" stop-color="#ff0600"/><stop offset="0.998" stop-color="#ff0600"/></linearGradient>
<linearGradient id="p4_11" gradientUnits="userSpaceOnUse" x1="0" y1="18" x2="0" y2="264"><stop offset="0.002033" stop-color="#0000ff"/><stop offset="0.6687" stop-color="#0002ff"/><stop offset="0.6809" stop-color="#000fff"/><stop offset="0.685" stop-color="#001cff"/><stop offset="0.689" stop-color="#0034ff"/><stop offset="0.6931" stop-color="#0060ff"/><stop offset="0.6972" stop-color="#00a0fe"/><stop offset="0.7012" stop-color="#00dbe8"/><stop offset="0.7053" stop-color="#00fca1"/><stop offset="0.7093" stop-color="#1aff2b"/><stop offset="0.7134" stop-color="#a8fa00"/><stop offset="0.7175" stop-color="#fdb900"/><stop offset="0.7215" stop-color="#ff5a00"/><stop offset="0.7256" stop-color="#ff2000"/><stop offset="0.7297" stop-color="#ff0b00"/><stop offset="0.7337" stop-color="#ff0600"/><stop offset="0.998" stop-color="#ff0600"/></linearGradient>
<linearGradient id="p4_12" gradientUnits="userSpaceOnUse" x1="0" y1="18" x2="0" y2="264"><stop offset="0.002033" stop-color="#0000ff"/><stop offset="0.685" stop-color="#0001ff"/><stop offset="0.6931" stop-color="#0007ff"/><stop offset="0.6972" stop-color="#0011ff"/><stop offset="0.7012" stop-color="#002dff"/><stop offset="0.7053" stop-color="#007aff"/><stop offset="0.7093" stop-color="#00e7d6"/><stop offset="0.7134" stop-color="#0dff46"/><stop offset="0.7175" stop-color="#98fc01"/><stop offset="0.7215" stop-color="#fdb600"/><stop offset="0.7256" stop-color="#ff5400"/><stop offset="0.7297" stop-color="#ff2000"/><stop offset="0.7337" stop-color="#ff0d00"/><stop offset="0.7378" stop-color="#ff0700"/><stop offset="0.998" stop-color="#ff0600"/></linearGradient>
<linearGradient id="p4_13" gradientUnits="userSpaceOnUse" x1="0" y1="18" x2="0" y2="264"><stop offset="0.002033" stop-color="#0000ff"/><stop offset="0.7012" stop-color="#0001ff"/><stop offset="0.7053" stop-color="#0009ff"/><stop offset="0.7093" stop-color="#0048ff"/><stop offset="0.7134" stop-color="#00d6e6"/><stop offset="0.7175" stop-color="#0bff4f"/><stop offset="0.7215" stop-color="#a1fa01"/><stop offset="0.7256" stop-color="#fdb200"/><stop offset="0.7297" stop-color="#ff5e00"/><stop offset="0.7337" stop-color="#ff2c00"/><stop offset="0.7378" stop-color="#ff1400"/><stop offset="0.7419" stop-color="#ff0a00"/><stop offset="0.7459" stop-color="#ff0700"/><stop offset="0.998" stop-color="#ff0600"/></linearGradient>
<linearGradient id="p4_14" gradientUnits="userSpaceOnUse" x1="0" y1="18" x2="0" y2="264"><stop offset="0.002033" stop-color="#0000ff"/><stop offset="0.7053" stop-color="#0000ff"/><stop offset="0.7093" stop-color="#0004ff"/><stop offset="0.7134" stop-color="#003aff"/><stop offset="0.7175" stop-color="#00d3e5"/><stop offset="0.7215" stop-color="#0cff4f"/><stop offset="0.7256" stop-color="#8efc02"/><stop offset="0.7297" stop-color="#f6cd00"/><stop offset="0.7337" stop-color="#ff7f00"/><stop offset="0.7378" stop-color="#ff4500"/><stop offset="0.7419" stop-color="#ff2100"/><stop offset="0.7459" stop-color="#ff0c00"/><stop offset="0.75" stop-color="#ff0600"/><stop offset="0.998" stop-color="#ff0600"/></linearGradient>
<linearGradient id="p4_15" gradientUnits="userSpaceOnUse" x1="0" y1="18" x2="0" y2="264"><stop offset="0.002033" stop-color="#0000ff"/><stop offset="0.7093" stop-color="#0000ff"/><stop offset="0.7134" stop-color="#0003ff"/><stop offset="0.7175" stop-color="#0035ff"/><stop offset="0.7215" stop-color="#00c0ee"/><stop offset="0.7256" stop-color="#03fd7a"/><stop offset="0.7297" stop-color="#4cff10"/><stop offset="0.7337" stop-color="#d1ee00"/><stop offset="0.7378" stop-color="#feb200"/><stop offset="0.7419" stop-color="#ff5800"/><stop offset="0.7459" stop-color="#ff1a00"/><stop offset="0.75" stop-color="#ff0800"/><stop offset="0.998" stop-color="#ff0600"/></linearGradient>
<linearGradient id="p4_16" gradientUnits="userSpaceOnUse" x1="0" y1="18" x2="0" y2="264"><stop offset="0.002033" stop-color="#0000ff"/><stop offset="0.7134" stop-color="#0000ff"/><stop offset="0.7175" stop-color="#0002ff"/><stop offset="0.7215" stop-color="#001aff"/><stop offset="0.7256" stop-color="#0085fd"/><stop offset="0.7297" stop-color="#00eec0"/><stop offset="0.7337" stop-color="#10ff46"/><stop offset="0.7378" stop-color="#c2f600"/><stop offset="0.7419" stop-color="#ff7f00"/><stop offset="0.7459" stop-color="#ff2300"/><stop offset="0.75" stop-color="#ff0900"/><stop offset="0.7541" stop-color="#ff0600"/><stop offset="0.998" stop-color="#ff0600"/></linearGradient>
<linearGradient id="p4_17" gradientUnits="userSpaceOnUse" x1="0" y1="18" x2="0" y2="264"><stop offset="0.002033" stop-color="#0000ff"/><stop offset="0.7215" stop-color="#0000ff"/><stop offset="0.7256" stop-color="#000bff"/><stop offset="0.7297" stop-color="#0059ff"/><stop offset="0.7337" stop-color="#00def1"/><stop offset="0.7378" stop-color="#fbd700"/><stop offset="0.7419" stop-color="#ff6b00"/><stop offset="0.7459" stop-color="#ff1e00"/><stop offset="0.75" stop-color="#ff0800"/><stop offset="0.7541" stop-color="#ff0600"/><stop offset="0.998" stop-color="#ff0600"/></linearGradient>
<linearGradient id="p4_18" gradientUnits="userSpaceOnUse" x1="0" y1="18" x2="0" y2="264"><stop offset="0.002033" stop-color="#0000ff"/><stop offset="0.7175" stop-color="#0001ff"/><stop offset="0.7215" stop-color="#0013ff"/><stop offset="0.7256" stop-color="#0070fe"/><stop offset="0.7297" stop-color="#00e3d1"/><stop offset="0.7337" stop-color="#08ff5a"/><stop offset="0.7378" stop-color="#c2f600"/><stop offset="0.7419" stop-color="#ff7f00"/><stop offset="0.7459" stop-color="#ff2300"/><stop offset="0.75" stop-color="#ff0900"/><stop offset="0.7541" stop-color="#ff0600"/><stop offset="0.998" stop-color="#ff0600"/></linearGradient>
<linearGradient id="p4_19" gradientUnits="userSpaceOnUse" x1="0" y1="18" x2="0" y2="264"><stop offset="0.002033" stop-color="#0000ff"/><stop offset="0.7093" stop-color="#0000ff"/><stop offset="0.7134" stop-color="#0002ff"/><stop offset="0.7175" stop-color="#0029ff"/><stop offset="0.7215" stop-color="#00aef5"/><stop offset="0.7256" stop-color="#01fb90"/><stop offset="0.7297" stop-color="#39ff19"/><stop offset="0.7337" stop-color="#bff400"/><stop offset="0.7378" stop-color="#fbbd00"/><stop offset="0.7419" stop-color="#ff5e00"/><stop offset="0.7459" stop-color="#ff1b00"/><stop offset="0.75" stop-color="#ff0800"/><stop offset="0.998" stop-color="#ff0600"/></linearGradient>
<linearGradient id="p4_20" gradientUnits="userSpaceOnUse" x1="0" y1="18" x2="0" y2="264"><stop offset="0.002033" stop-color="#0000ff"/><stop offset="0.7053" stop-color="#0000ff"/><stop offset="0.7093" stop-color="#0002ff"/><stop offset="0.7134" stop-color="#002fff"/><stop offset="0.7175" stop-color="#00c6ed"/><stop offset="0.7215" stop-color="#07ff61"/><stop offset="0.7256" stop-color="#78fe05"/><stop offset="0.7297" stop-color="#f0d800"/><stop offset="0.7337" stop-color="#ff8a00"/><stop offset="0.7378" stop-color="#ff4e00"/><stop offset="0.7419" stop-color="#ff2500"/><stop offset="0.7459" stop-color="#ff0d00"/><stop offset="0.75" stop-color="#ff0600"/><stop offset="0.998" stop-color="#ff0600"/></linearGradient>
<linearGradient id="p4_21" gradientUnits="userSpaceOnUse" x1="0" y1="18" x2="0" y2="264"><stop offset="0.002033" stop-color="#0000ff"/><stop offset="0.7012" stop-color="#0000ff"/><stop offset="0.7053" stop-color="#0007ff"/><stop offset="0.7093" stop-color="#003aff"/><stop offset="0.7134" stop-color="#00c8ed"/><stop offset="0.7175" stop-color="#06ff5f"/><stop offset="0.7215" stop-color="#8ffc02"/><stop offset="0.7256" stop-color="#fcbe00"/><stop offset="0.7297" stop-color="#ff6800"/><stop offset="0.7337" stop-color="#ff3100"/><stop offset="0.7378" stop-color="#ff1600"/><stop offset="0.7419" stop-color="#ff0b00"/><stop offset="0.7459" stop-color="#ff0700"/><stop offset="0.998" stop-color="#ff0600"/></linearGradient>
<linearGradient id="p4_22" gradientUnits="userSpaceOnUse" x1="0" y1="18" x2="0" y2="264"><stop offset="0.002033" stop-color="#0000ff"/><stop offset="0.689" stop-color="#0001ff"/><stop offset="0.6972" stop-color="#000cff"/><stop offset="0.7012" stop-color="#0022ff"/><stop offset="0.7053" stop-color="#0066ff"/><stop offset="0.7093" stop-color="#00dde1"/><stop offset="0.7134" stop-color="#08ff57"/><stop offset="0.7175" stop-color="#85fd03"/><stop offset="0.7215" stop-color="#fbc000"/><stop offset="0.7256" stop-color="#ff5c00"/><stop offset="0.7297" stop-color="#ff2400"/><stop offset="0.7337" stop-color="#ff0e00"/><stop offset="0.7378" stop-color="#ff0800"/><stop offset="0.7419" stop-color="#ff0600"/><stop offset="0.998" stop-color="#ff0600"/></linearGradient>
<linearGradient id="p4_23" gradientUnits="userSpaceOnUse" x1="0" y1="18" x2="0" y2="264"><stop offset="0.002033" stop-color="#0000ff"/><stop offset="0.6687" stop-color="#0001ff"/><stop offset="0.6809" stop-color="#000bff"/><stop offset="0.685" stop-color="#0015ff"/><stop offset="0.689" stop-color="#0029ff"/><stop offset="0.6931" stop-color="#004fff"/><stop offset="0.6972" stop-color="#008cff"/><stop offset="0.7012" stop-color="#00cdf1"/><stop offset="0.7053" stop-color="#00f9b4"/><stop offset="0.7093" stop-color="#11ff39"/><stop offset="0.7134" stop-color="#96fd01"/><stop offset="0.7175" stop-color="#fbc300"/><stop offset="0.7215" stop-color="#ff6200"/><stop offset="0.7256" stop-color="#ff2400"/><stop offset="0.7297" stop-color="#ff0c00"/><stop offset="0.7337" stop-color="#ff0700"/><stop offset="0.998" stop-color="#ff0600"/></linearGradient>
<linearGradient id="p4_24" gradientUnits="userSpaceOnUse" x1="0" y1="18" x2="0" y2="264"><stop offset="0.002033" stop-color="#0000ff"/><stop offset="0.628" stop-color="#0000ff"/><stop offset="0.6484" stop-color="#0004ff"/><stop offset="0.6565" stop-color="#0008ff"/><stop offset="0.6646" stop-color="#0013ff"/><stop offset="0.6687" stop-color="#001eff"/><stop offset="0.6728" stop-color="#002fff"/><stop offset="0.6768" stop-color="#0048ff"/><stop offset="0.6809" stop-color="#006bff"/><stop offset="0.685" stop-color="#009aff"/><stop offset="0.689" stop-color="#00cbf8"/><stop offset="0.6931" stop-color="#00efda"/><stop offset="0.6972" stop-color="#00fe9d"/><stop offset="0.7012" stop-color="#05ff49"/><stop offset="0.7053" stop-color="#3fff0e"/><stop offset="0.7093" stop-color="#bff700"/><stop offset="0.7134" stop-color="#fdb900"/><stop offset="0.7175" stop-color="#ff6200"/><stop offset="0.7215" stop-color="#ff2500"/><stop offset="0.7256" stop-color="#ff0d00"/><stop offset="0.7297" stop-color="#ff0700"/><stop offset="0.998" stop-color="#ff0600"/></linearGradient>
<linearGradient id="p4_25" gradientUnits="userSpaceOnUse" x1="0" y1="18" x2="0" y2="264"><stop offset="0.002033" stop-color="#0000ff"/><stop offset="0.6077" stop-color="#0000ff"/><stop offset="0.624" stop-color="#0003ff"/><stop offset="0.6321" stop-color="#000aff"/><stop offset="0.6402" stop-color="#0016ff"/><stop offset="0.6524" stop-color="#0037ff"/><stop offset="0.6565" stop-color="#004aff"/><stop offset="0.6606" stop-color="#0062ff"/><stop offset="0.6646" stop-color="#007eff"/><stop offset="0.6728" stop-color="#00c5fc"/><stop offset="0.6768" stop-color="#00e3f0"/><stop offset="0.6809" stop-color="#00f7d5"/><stop offset="0.685" stop-color="#00ffa9"/><stop offset="0.689" stop-color="#00ff6c"/><stop offset="0.6931" stop-color="#0aff2f"/><stop offset="0.6972" stop-color="#3dff08"/><stop offset="0.7012" stop-color="#a1fe00"/><stop offset="0.7053" stop-color="#efe100"/><stop offset="0.7093" stop-color="#ff9c00"/><stop offset="0.7134" stop-color="#ff5700"/><stop offset="0.7175" stop-color="#ff2400"/><stop offset="0.7215" stop-color="#ff0d00"/><stop offset="0.7256" stop-color="#ff0700"/><stop offset="0.998" stop-color="#ff0600"/></linearGradient>
<linearGradient id="p4_26" gradientUnits="userSpaceOnUse" x1="0" y1="18" x2="0" y2="264"><stop offset="0.002033" stop-color="#0000ff"/><stop offset="0.5996" stop-color="#0001ff"/><stop offset="0.6159" stop-color="#000fff"/><stop offset="0.624" stop-color="#001fff"/><stop offset="0.628" stop-color="#002eff"/><stop offset="0.6321" stop-color="#0044ff"/><stop offset="0.6443" stop-color="#0097ff"/><stop offset="0.6524" stop-color="#00c8fd"/><stop offset="0.6565" stop-color="#00ddf7"/><stop offset="0.6606" stop-color="#00eee9"/><stop offset="0.6646" stop-color="#00fad5"/><stop offset="0.6687" stop-color="#00ffb7"/><stop offset="0.6728" stop-color="#00ff8f"/><stop offset="0.6809" stop-color="#05ff34"/><stop offset="0.685" stop-color="#1eff11"/><stop offset="0.689" stop-color="#53ff01"/><stop offset="0.6931" stop-color="#a1ff00"/><stop offset="0.6972" stop-color="#e6f000"/><stop offset="0.7012" stop-color="#ffbd00"/><stop offset="0.7053" stop-color="#ff7900"/><stop offset="0.7093" stop-color="#ff4000"/><stop offset="0.7134" stop-color="#ff1e00"/><stop offset="0.7175" stop-color="#ff0c00"/><stop offset="0.7215" stop-color="#ff0700"/><stop offset="0.998" stop-color="#ff0600"/></linearGradient>
<linearGradient id="p4_27" gradientUnits="userSpaceOnUse" x1="0" y1="18" x2="0" y2="264"><stop offset="0.002033" stop-color="#0000ff"/><stop offset="0.5874" stop-color="#0002ff"/><stop offset="0.5996" stop-color="#000dff"/><stop offset="0.6037" stop-color="#0016ff"/><stop offset="0.6077" stop-color="#0024ff"/><stop offset="0.6159" stop-color="#004fff"/><stop offset="0.6199" stop-color="#006bff"/><stop offset="0.624" stop-color="#0089ff"/><stop offset="0.6321" stop-color="#00cefd"/><stop offset="0.6362" stop-color="#00e7f3"/><stop offset="0.6402" stop-color="#00f6e2"/><stop offset="0.6443" stop-color="#00fdcd"/><stop offset="0.6484" stop-color="#00ffb5"/><stop offset="0.6565" stop-color="#00ff7f"/><stop offset="0.6646" stop-color="#01ff3e"/><stop offset="0.6687" stop-color="#0aff21"/><stop offset="0.6728" stop-color="#22ff0c"/><stop offset="0.6768" stop-color="#4aff01"/><stop offset="0.685" stop-color="#c0fe00"/><stop offset="0.689" stop-color="#ecf200"/><stop offset="0.6931" stop-color="#fecf00"/><stop offset="0.7012" stop-color="#ff6200"/><stop offset="0.7053" stop-color="#ff2f00"/><stop offset="0.7093" stop-color="#ff1400"/><stop offset="0.7134" stop-color="#ff0a00"/><stop offset="0.7175" stop-color="#ff0600"/><stop offset="0.998" stop-color="#ff0600"/></linearGradient>
<linearGradient id="p4_28" gradientUnits="userSpaceOnUse" x1="0" y1="18" x2="0" y2="264"><stop offset="0.002033" stop-color="#0000ff"/><stop offset="0.5752" stop-color="#0001ff"/><stop offset="0.5874" stop-color="#0011ff"/><stop offset="0.5955" stop-color="#0029ff"/><stop offset="0.5996" stop-color="#0040ff"/><stop offset="0.6037" stop-color="#005fff"/><stop offset="0.6159" stop-color="#00cdfe"/><stop offset="0.6199" stop-color="#00e8f5"/><stop offset="0.624" stop-color="#00f8e3"/><stop offset="0.628" stop-color="#00ffc7"/><stop offset="0.6321" stop-color="#00ffa2"/><stop offset="0.6402" stop-color="#00ff5c"/><stop offset="0.6443" stop-color="#00ff3d"/><stop offset="0.6484" stop-color="#05ff26"/><stop offset="0.6524" stop-color="#10ff15"/><stop offset="0.6565" stop-color="#22ff09"/><stop offset="0.6606" stop-color="#3eff01"/><stop offset="0.6646" stop-color="#65ff00"/><stop offset="0.6728" stop-color="#beff00"/><stop offset="0.6768" stop-color="#e3f800"/><stop offset="0.6809" stop-color="#f9e600"/><stop offset="0.685" stop-color="#ffc600"/><stop offset="0.6931" stop-color="#ff7c00"/><stop offset="0.6972" stop-color="#ff4f00"/><stop offset="0.7012" stop-color="#ff2800"/><stop offset="0.7053" stop-color="#ff1000"/><stop offset="0.7093" stop-color="#ff0800"/><stop offset="0.998" stop-color="#ff0600"/></linearGradient>
<linearGradient id="p4_29" gradientUnits="userSpaceOnUse" x1="0" y1="18" x2="0" y2="264"><stop offset="0.002033" stop-color="#0000ff"/><stop offset="0.5671" stop-color="#0000ff"/><stop offset="0.5752" stop-color="#000aff"/><stop offset="0.5793" stop-color="#0015ff"/><stop offset="0.5833" stop-color="#002aff"/><stop offset="0.5955" stop-color="#008dff"/><stop offset="0.6037" stop-color="#00d7fd"/><stop offset="0.6077" stop-color="#00f1f0"/><stop offset="0.6118" stop-color="#00fdd7"/><stop offset="0.6159" stop-color="#00ffb4"/><stop offset="0.628" stop-color="#00ff40"/><stop offset="0.6321" stop-color="#06ff20"/><stop offset="0.6362" stop-color="#17ff0c"/><stop offset="0.6402" stop-color="#31ff02"/><stop offset="0.6606" stop-color="#d4fe00"/><stop offset="0.6646" stop-color="#ecf600"/><stop offset="0.6687" stop-color="#fbe600"/><stop offset="0.6728" stop-color="#ffce00"/><stop offset="0.689" stop-color="#ff5f00"/><stop offset="0.6972" stop-color="#ff2100"/><stop offset="0.7012" stop-color="#ff0f00"/><stop offset="0.7053" stop-color="#ff0700"/><stop offset="0.998" stop-color="#ff0600"/></linearGradient>
<linearGradient id="p4_30" gradientUnits="userSpaceOnUse" x1="0" y1="18" x2="0" y2="264"><stop offset="0.002033" stop-color="#0000ff"/><stop offset="0.563" stop-color="#0000ff"/><stop offset="0.5671" stop-color="#0005ff"/><stop offset="0.5711" stop-color="#0010ff"/><stop offset="0.5752" stop-color="#0024ff"/><stop offset="0.5793" stop-color="#004cff"/><stop offset="0.5874" stop-color="#00b5ff"/><stop offset="0.5915" stop-color="#00defc"/><stop offset="0.5955" stop-color="#00f4ee"/><stop offset="0.5996" stop-color="#00fed5"/><stop offset="0.6037" stop-color="#00ffb1"/><stop offset="0.6159" stop-color="#00ff3b"/><stop offset="0.6199" stop-color="#09ff19"/><stop offset="0.624" stop-color="#20ff06"/><stop offset="0.628" stop-color="#43ff00"/><stop offset="0.6362" stop-color="#93ff00"/><stop offset="0.6443" stop-color="#d6fe00"/><stop offset="0.6484" stop-color="#ecf800"/><stop offset="0.6524" stop-color="#f9ed00"/><stop offset="0.6565" stop-color="#ffdc00"/><stop offset="0.685" stop-color="#ff4100"/><stop offset="0.6931" stop-color="#ff1c00"/><stop offset="0.6972" stop-color="#ff0d00"/><stop offset="0.7012" stop-color="#ff0700"/><stop offset="0.998" stop-color="#ff0600"/></linearGradient>
<linearGradient id="p4_31" gradientUnits="userSpaceOnUse" x1="0" y1="18" x2="0" y2="264"><stop offset="0.002033" stop-color="#0000ff"/><stop offset="0.5589" stop-color="#0000ff"/><stop offset="0.563" stop-color="#0005ff"/><stop offset="0.5671" stop-color="#0012ff"/><stop offset="0.5711" stop-color="#0032ff"/><stop offset="0.5752" stop-color="#006bff"/><stop offset="0.5793" stop-color="#00acff"/><stop offset="0.5833" stop-color="#00e5fa"/><stop offset="0.5874" stop-color="#00fddd"/><stop offset="0.5915" stop-color="#00ffb0"/><stop offset="0.6037" stop-color="#00ff3f"/><stop offset="0.6077" stop-color="#06ff1d"/><stop offset="0.6118" stop-color="#1dff08"/><stop offset="0.6159" stop-color="#45ff00"/><stop offset="0.6199" stop-color="#74ff00"/><stop offset="0.624" stop-color="#9cff00"/><stop offset="0.6321" stop-color="#e1fd00"/><stop offset="0.6362" stop-color="#f5f400"/><stop offset="0.6402" stop-color="#fee400"/><stop offset="0.6484" stop-color="#ffbb00"/><stop offset="0.6768" stop-color="#ff3a00"/><stop offset="0.685" stop-color="#ff1f00"/><stop offset="0.6931" stop-color="#ff0c00"/><stop offset="0.6972" stop-color="#ff0700"/><stop offset="0.998" stop-color="#ff0600"/></linearGradient>
<linearGradient id="p4_32" gradientUnits="userSpaceOnUse" x1="0" y1="18" x2="0" y2="264"><stop offset="0.002033" stop-color="#0000ff"/><stop offset="0.5549" stop-color="#0000ff"/><stop offset="0.5589" stop-color="#0004ff"/><stop offset="0.563" stop-color="#0011ff"/><stop offset="0.5671" stop-color="#0033ff"/><stop offset="0.5711" stop-color="#0077ff"/><stop offset="0.5752" stop-color="#00c5ff"/><stop offset="0.5793" stop-color="#00f8ec"/><stop offset="0.5833" stop-color="#00ffb5"/><stop offset="0.5874" stop-color="#00ff7a"/><stop offset="0.5915" stop-color="#00ff45"/><stop offset="0.5955" stop-color="#05ff1e"/><stop offset="0.5996" stop-color="#1bff09"/><stop offset="0.6037" stop-color="#42ff01"/><stop offset="0.6118" stop-color="#a1ff00"/><stop offset="0.6159" stop-color="#c8ff00"/><stop offset="0.6199" stop-color="#e6fc00"/><stop offset="0.624" stop-color="#f7f300"/><stop offset="0.628" stop-color="#fee300"/><stop offset="0.6362" stop-color="#ffb800"/><stop offset="0.6484" stop-color="#ff8100"/><stop offset="0.6606" stop-color="#ff4f00"/><stop offset="0.6687" stop-color="#ff3200"/><stop offset="0.6809" stop-color="#ff1400"/><stop offset="0.6931" stop-color="#ff0700"/><stop offset="0.998" stop-color="#ff0600"/></linearGradient>
<linearGradient id="p4_33" gradientUnits="userSpaceOnUse" x1="0" y1="18" x2="0" y2="264"><stop offset="0.002033" stop-color="#0000ff"/><stop offset="0.5508" stop-color="#0000ff"/><stop offset="0.5549" stop-color="#0003ff"/><stop offset="0.5589" stop-color="#000fff"/><stop offset="0.563" stop-color="#002eff"/><stop offset="0.5671" stop-color="#0072ff"/><stop offset="0.5711" stop-color="#00c7ff"/><stop offset="0.5752" stop-color="#00fbe4"/><stop offset="0.5793" stop-color="#00ff9d"/><stop offset="0.5833" stop-color="#00ff57"/><stop offset="0.5874" stop-color="#06ff1d"/><stop offset="0.5915" stop-color="#32ff02"/><stop offset="0.5955" stop-color="#73ff00"/><stop offset="0.5996" stop-color="#a5ff00"/><stop offset="0.6037" stop-color="#cdff00"/><stop offset="0.6077" stop-color="#ebf900"/><stop offset="0.6118" stop-color="#faec00"/><stop offset="0.6159" stop-color="#ffdb00"/><stop offset="0.6362" stop-color="#ff8300"/><stop offset="0.6524" stop-color="#ff4100"/><stop offset="0.6646" stop-color="#ff2100"/><stop offset="0.6728" stop-color="#ff1300"/><stop offset="0.6809" stop-color="#ff0a00"/><stop offset="0.6931" stop-color="#ff0600"/><stop offset="0.998" stop-color="#ff0600"/></linearGradient>
<linearGradient id="p4_34" gradientUnits="userSpaceOnUse" x1="0" y1="18" x2="0" y2="264"><stop offset="0.002033" stop-color="#0000ff"/><stop offset="0.5467" stop-color="#0000ff"/><stop offset="0.5508" stop-color="#0002ff"/><stop offset="0.5549" stop-color="#000cff"/><stop offset="0.5589" stop-color="#0027ff"/><stop offset="0.563" stop-color="#0068ff"/><stop offset="0.5671" stop-color="#00bfff"/><stop offset="0.5711" stop-color="#00fae8"/><stop offset="0.5752" stop-color="#00ff9e"/><stop offset="0.5793" stop-color="#00ff4d"/><stop offset="0.5833" stop-color="#11ff0d"/><stop offset="0.5874" stop-color="#63ff00"/><stop offset="0.5915" stop-color="#b8ff00"/><stop offset="0.5955" stop-color="#ecf800"/><stop offset="0.5996" stop-color="#fce600"/><stop offset="0.6037" stop-color="#ffd200"/><stop offset="0.6118" stop-color="#ffac00"/><stop offset="0.624" stop-color="#ff8600"/><stop offset="0.6362" stop-color="#ff5600"/><stop offset="0.6484" stop-color="#ff2d00"/><stop offset="0.6606" stop-color="#ff1600"/><stop offset="0.6728" stop-color="#ff0a00"/><stop offset="0.689" stop-color="#ff0600"/><stop offset="0.998" stop-color="#ff0600"/></linearGradient>
<linearGradient id="p4_35" gradientUnits="userSpaceOnUse" x1="0" y1="18" x2="0" y2="264"><stop offset="0.002033" stop-color="#0000ff"/><stop offset="0.5467" stop-color="#0001ff"/><stop offset="0.5508" stop-color="#000bff"/><stop offset="0.5549" stop-color="#0021ff"/><stop offset="0.5589" stop-color="#005bff"/><stop offset="0.563" stop-color="#00b1ff"/><stop offset="0.5671" stop-color="#00f7ee"/><stop offset="0.5711" stop-color="#00ffa6"/><stop offset="0.5752" stop-color="#00ff55"/><stop offset="0.5793" stop-color="#0fff0f"/><stop offset="0.5833" stop-color="#71ff00"/><stop offset="0.5874" stop-color="#d6fd00"/><stop offset="0.5915" stop-color="#fde300"/><stop offset="0.5955" stop-color="#ffbc00"/><stop offset="0.5996" stop-color="#ffa200"/><stop offset="0.6077" stop-color="#ff8300"/><stop offset="0.624" stop-color="#ff5a00"/><stop offset="0.6321" stop-color="#ff3f00"/><stop offset="0.6402" stop-color="#ff2a00"/><stop offset="0.6524" stop-color="#ff1300"/><stop offset="0.6606" stop-color="#ff0b00"/><stop offset="0.6809" stop-color="#ff0600"/><stop offset="0.998" stop-color="#ff0600"/></linearGradient>
<clipPath id="clip_p4"><rect x="504.05" y="18.80" width="35.10" height="245.50"/></clipPath>
<linearGradient id="lgA" x1="0" y1="0" x2="0" y2="1"><stop offset="0" stop-color="#ff0000"/><stop offset="0.25" stop-color="#ffff00"/><stop offset="0.5" stop-color="#00ff00"/><stop offset="0.75" stop-color="#00ffff"/><stop offset="1" stop-color="#0000ff"/></linearGradient>
<linearGradient id="lgB" x1="0" y1="0" x2="0" y2="1"><stop offset="0" stop-color="#ff0000"/><stop offset="0.25" stop-color="#ffff00"/><stop offset="0.5" stop-color="#00ff00"/><stop offset="0.75" stop-color="#00ffff"/><stop offset="1" stop-color="#0000ff"/></linearGradient>
</defs>
<rect width="550" height="303" fill="#fff"/>
<g clip-path="url(#clip_p1)">
<rect x="87" y="20" width="1" height="242" fill="url(#p1_0)"/>
<rect x="88" y="20" width="1" height="242" fill="url(#p1_1)"/>
<rect x="89" y="20" width="1" height="242" fill="url(#p1_2)"/>
<rect x="90" y="20" width="1" height="242" fill="url(#p1_3)"/>
<rect x="91" y="20" width="1" height="242" fill="url(#p1_4)"/>
<rect x="92" y="20" width="1" height="242" fill="url(#p1_5)"/>
<rect x="93" y="20" width="1" height="242" fill="url(#p1_6)"/>
<rect x="94" y="20" width="1" height="242" fill="url(#p1_7)"/>
<rect x="95" y="20" width="1" height="242" fill="url(#p1_8)"/>
<rect x="96" y="20" width="1" height="242" fill="url(#p1_9)"/>
<rect x="97" y="20" width="1" height="242" fill="url(#p1_10)"/>
<rect x="98" y="20" width="1" height="242" fill="url(#p1_11)"/>
<rect x="99" y="20" width="1" height="242" fill="url(#p1_12)"/>
<rect x="100" y="20" width="1" height="242" fill="url(#p1_13)"/>
<rect x="101" y="20" width="1" height="242" fill="url(#p1_14)"/>
<rect x="102" y="20" width="1" height="242" fill="url(#p1_15)"/>
<rect x="103" y="20" width="1" height="242" fill="url(#p1_16)"/>
<rect x="104" y="20" width="1" height="242" fill="url(#p1_17)"/>
<rect x="105" y="20" width="1" height="242" fill="url(#p1_18)"/>
<rect x="106" y="20" width="1" height="242" fill="url(#p1_19)"/>
<rect x="107" y="20" width="1" height="242" fill="url(#p1_20)"/>
<rect x="108" y="20" width="1" height="242" fill="url(#p1_21)"/>
<rect x="109" y="20" width="1" height="242" fill="url(#p1_22)"/>
<rect x="110" y="20" width="1" height="242" fill="url(#p1_23)"/>
<rect x="111" y="20" width="1" height="242" fill="url(#p1_24)"/>
<rect x="112" y="20" width="1" height="242" fill="url(#p1_25)"/>
<rect x="113" y="20" width="1" height="242" fill="url(#p1_26)"/>
<rect x="114" y="20" width="1" height="242" fill="url(#p1_27)"/>
<rect x="115" y="20" width="1" height="242" fill="url(#p1_28)"/>
<rect x="116" y="20" width="1" height="242" fill="url(#p1_29)"/>
<rect x="117" y="20" width="1" height="242" fill="url(#p1_30)"/>
<rect x="118" y="20" width="1" height="242" fill="url(#p1_31)"/>
<rect x="119" y="20" width="1" height="242" fill="url(#p1_32)"/>
<rect x="120" y="20" width="1" height="242" fill="url(#p1_33)"/>
<rect x="121" y="20" width="1" height="242" fill="url(#p1_34)"/>
<rect x="122" y="20" width="1" height="242" fill="url(#p1_35)"/>
</g>
<g clip-path="url(#clip_p2)">
<rect x="150" y="20" width="1" height="242" fill="url(#p2_0)"/>
<rect x="151" y="20" width="1" height="242" fill="url(#p2_1)"/>
<rect x="152" y="20" width="1" height="242" fill="url(#p2_2)"/>
<rect x="153" y="20" width="1" height="242" fill="url(#p2_3)"/>
<rect x="154" y="20" width="1" height="242" fill="url(#p2_4)"/>
<rect x="155" y="20" width="1" height="242" fill="url(#p2_5)"/>
<rect x="156" y="20" width="1" height="242" fill="url(#p2_6)"/>
<rect x="157" y="20" width="1" height="242" fill="url(#p2_7)"/>
<rect x="158" y="20" width="1" height="242" fill="url(#p2_8)"/>
<rect x="159" y="20" width="1" height="242" fill="url(#p2_9)"/>
<rect x="160" y="20" width="1" height="242" fill="url(#p2_10)"/>
<rect x="161" y="20" width="1" height="242" fill="url(#p2_11)"/>
<rect x="162" y="20" width="1" height="242" fill="url(#p2_12)"/>
<rect x="163" y="20" width="1" height="242" fill="url(#p2_13)"/>
<rect x="164" y="20" width="1" height="242" fill="url(#p2_14)"/>
<rect x="165" y="20" width="1" height="242" fill="url(#p2_15)"/>
<rect x="166" y="20" width="1" height="242" fill="url(#p2_16)"/>
<rect x="167" y="20" width="1" height="242" fill="url(#p2_17)"/>
<rect x="168" y="20" width="1" height="242" fill="url(#p2_18)"/>
<rect x="169" y="20" width="1" height="242" fill="url(#p2_19)"/>
<rect x="170" y="20" width="1" height="242" fill="url(#p2_20)"/>
<rect x="171" y="20" width="1" height="242" fill="url(#p2_21)"/>
<rect x="172" y="20" width="1" height="242" fill="url(#p2_22)"/>
<rect x="173" y="20" width="1" height="242" fill="url(#p2_23)"/>
<rect x="174" y="20" width="1" height="242" fill="url(#p2_24)"/>
<rect x="175" y="20" width="1" height="242" fill="url(#p2_25)"/>
<rect x="176" y="20" width="1" height="242" fill="url(#p2_26)"/>
<rect x="177" y="20" width="1" height="242" fill="url(#p2_27)"/>
<rect x="178" y="20" width="1" height="242" fill="url(#p2_28)"/>
<rect x="179" y="20" width="1" height="242" fill="url(#p2_29)"/>
<rect x="180" y="20" width="1" height="242" fill="url(#p2_30)"/>
<rect x="181" y="20" width="1" height="242" fill="url(#p2_31)"/>
<rect x="182" y="20" width="1" height="242" fill="url(#p2_32)"/>
<rect x="183" y="20" width="1" height="242" fill="url(#p2_33)"/>
<rect x="184" y="20" width="1" height="242" fill="url(#p2_34)"/>
</g>
<g clip-path="url(#clip_p3)">
<rect x="442" y="18" width="1" height="246" fill="url(#p3_0)"/>
<rect x="443" y="18" width="1" height="246" fill="url(#p3_1)"/>
<rect x="444" y="18" width="1" height="246" fill="url(#p3_2)"/>
<rect x="445" y="18" width="1" height="246" fill="url(#p3_3)"/>
<rect x="446" y="18" width="1" height="246" fill="url(#p3_4)"/>
<rect x="447" y="18" width="1" height="246" fill="url(#p3_5)"/>
<rect x="448" y="18" width="1" height="246" fill="url(#p3_6)"/>
<rect x="449" y="18" width="1" height="246" fill="url(#p3_7)"/>
<rect x="450" y="18" width="1" height="246" fill="url(#p3_8)"/>
<rect x="451" y="18" width="1" height="246" fill="url(#p3_9)"/>
<rect x="452" y="18" width="1" height="246" fill="url(#p3_10)"/>
<rect x="453" y="18" width="1" height="246" fill="url(#p3_11)"/>
<rect x="454" y="18" width="1" height="246" fill="url(#p3_12)"/>
<rect x="455" y="18" width="1" height="246" fill="url(#p3_13)"/>
<rect x="456" y="18" width="1" height="246" fill="url(#p3_14)"/>
<rect x="457" y="18" width="1" height="246" fill="url(#p3_14)"/>
<rect x="458" y="18" width="1" height="246" fill="url(#p3_14)"/>
<rect x="459" y="18" width="1" height="246" fill="url(#p3_14)"/>
<rect x="460" y="18" width="1" height="246" fill="url(#p3_14)"/>
<rect x="461" y="18" width="1" height="246" fill="url(#p3_14)"/>
<rect x="462" y="18" width="1" height="246" fill="url(#p3_14)"/>
<rect x="463" y="18" width="1" height="246" fill="url(#p3_21)"/>
<rect x="464" y="18" width="1" height="246" fill="url(#p3_22)"/>
<rect x="465" y="18" width="1" height="246" fill="url(#p3_23)"/>
<rect x="466" y="18" width="1" height="246" fill="url(#p3_24)"/>
<rect x="467" y="18" width="1" height="246" fill="url(#p3_25)"/>
<rect x="468" y="18" width="1" height="246" fill="url(#p3_26)"/>
<rect x="469" y="18" width="1" height="246" fill="url(#p3_27)"/>
<rect x="470" y="18" width="1" height="246" fill="url(#p3_28)"/>
<rect x="471" y="18" width="1" height="246" fill="url(#p3_29)"/>
<rect x="472" y="18" width="1" height="246" fill="url(#p3_30)"/>
<rect x="473" y="18" width="1" height="246" fill="url(#p3_31)"/>
<rect x="474" y="18" width="1" height="246" fill="url(#p3_32)"/>
<rect x="475" y="18" width="1" height="246" fill="url(#p3_33)"/>
<rect x="476" y="18" width="1" height="246" fill="url(#p3_34)"/>
</g>
<g clip-path="url(#clip_p4)">
<rect x="504" y="18" width="1" height="246" fill="url(#p4_0)"/>
<rect x="505" y="18" width="1" height="246" fill="url(#p4_1)"/>
<rect x="506" y="18" width="1" height="246" fill="url(#p4_2)"/>
<rect x="507" y="18" width="1" height="246" fill="url(#p4_3)"/>
<rect x="508" y="18" width="1" height="246" fill="url(#p4_4)"/>
<rect x="509" y="18" width="1" height="246" fill="url(#p4_5)"/>
<rect x="510" y="18" width="1" height="246" fill="url(#p4_6)"/>
<rect x="511" y="18" width="1" height="246" fill="url(#p4_7)"/>
<rect x="512" y="18" width="1" height="246" fill="url(#p4_8)"/>
<rect x="513" y="18" width="1" height="246" fill="url(#p4_9)"/>
<rect x="514" y="18" width="1" height="246" fill="url(#p4_10)"/>
<rect x="515" y="18" width="1" height="246" fill="url(#p4_11)"/>
<rect x="516" y="18" width="1" height="246" fill="url(#p4_12)"/>
<rect x="517" y="18" width="1" height="246" fill="url(#p4_13)"/>
<rect x="518" y="18" width="1" height="246" fill="url(#p4_14)"/>
<rect x="519" y="18" width="1" height="246" fill="url(#p4_15)"/>
<rect x="520" y="18" width="1" height="246" fill="url(#p4_16)"/>
<rect x="521" y="18" width="1" height="246" fill="url(#p4_17)"/>
<rect x="522" y="18" width="1" height="246" fill="url(#p4_18)"/>
<rect x="523" y="18" width="1" height="246" fill="url(#p4_19)"/>
<rect x="524" y="18" width="1" height="246" fill="url(#p4_20)"/>
<rect x="525" y="18" width="1" height="246" fill="url(#p4_21)"/>
<rect x="526" y="18" width="1" height="246" fill="url(#p4_22)"/>
<rect x="527" y="18" width="1" height="246" fill="url(#p4_23)"/>
<rect x="528" y="18" width="1" height="246" fill="url(#p4_24)"/>
<rect x="529" y="18" width="1" height="246" fill="url(#p4_25)"/>
<rect x="530" y="18" width="1" height="246" fill="url(#p4_26)"/>
<rect x="531" y="18" width="1" height="246" fill="url(#p4_27)"/>
<rect x="532" y="18" width="1" height="246" fill="url(#p4_28)"/>
<rect x="533" y="18" width="1" height="246" fill="url(#p4_29)"/>
<rect x="534" y="18" width="1" height="246" fill="url(#p4_30)"/>
<rect x="535" y="18" width="1" height="246" fill="url(#p4_31)"/>
<rect x="536" y="18" width="1" height="246" fill="url(#p4_32)"/>
<rect x="537" y="18" width="1" height="246" fill="url(#p4_33)"/>
<rect x="538" y="18" width="1" height="246" fill="url(#p4_34)"/>
<rect x="539" y="18" width="1" height="246" fill="url(#p4_35)"/>
</g>
<g clip-path="url(#clip_p1)">
<rect x="100.30" y="192.85" width="8.50" height="69.05" fill="#f1e3e8"/>
<rect x="101.80" y="192.15" width="5.50" height="69.75" fill="#ff0600"/>
</g>
<g clip-path="url(#clip_p2)">
<polygon points="162.65,261.80 162.65,220.53 163.85,193.00 163.85,193.00 169.85,193.00 169.85,193.00 171.05,220.53 171.05,261.80" fill="#f1e3e8"/>
<polygon points="164.05,261.80 164.05,220.53 165.25,193.00 165.25,192.30 168.45,192.30 168.45,193.00 169.65,220.53 169.65,261.80" fill="#ff0600"/>
</g>
<g clip-path="url(#clip_p3)">
<rect x="455.10" y="194.00" width="8.90" height="70.20" fill="#f6f3f8"/>
<rect x="456.80" y="193.30" width="5.50" height="70.90" fill="#0000ff"/>
</g>
<g clip-path="url(#clip_p4)">
<polygon points="517.35,264.20 517.35,229.24 518.75,194.30 518.75,194.30 524.35,194.30 524.35,194.30 525.75,229.24 525.75,264.20" fill="#f6f3f8"/>
<polygon points="518.60,264.20 518.60,229.24 520.00,194.30 520.00,193.60 523.10,193.60 523.10,194.30 524.50,229.24 524.50,264.20" fill="#0000ff"/>
</g>
<rect x="86.68" y="20.40" width="1.45" height="242.32" fill="#000"/>
<rect x="86.68" y="261.27" width="36.25" height="1.45" fill="#000"/>
<rect x="84.08" y="261.27" width="2.90" height="1.25" fill="#000"/>
<text x="84.38" y="265.60" font-family="'Liberation Serif', 'Times New Roman', serif" font-size="10.30" text-anchor="end" fill="#000">15</text>
<rect x="84.18" y="254.70" width="2.70" height="0.80" fill="#1a1a1a"/>
<rect x="84.18" y="247.81" width="2.70" height="0.80" fill="#1a1a1a"/>
<rect x="84.18" y="240.91" width="2.70" height="0.80" fill="#1a1a1a"/>
<rect x="84.18" y="234.01" width="2.70" height="0.80" fill="#1a1a1a"/>
<rect x="84.08" y="226.91" width="2.90" height="1.25" fill="#000"/>
<text x="84.38" y="231.11" font-family="'Liberation Serif', 'Times New Roman', serif" font-size="10.30" text-anchor="end" fill="#000">20</text>
<rect x="84.18" y="220.22" width="2.70" height="0.80" fill="#1a1a1a"/>
<rect x="84.18" y="213.32" width="2.70" height="0.80" fill="#1a1a1a"/>
<rect x="84.18" y="206.42" width="2.70" height="0.80" fill="#1a1a1a"/>
<rect x="84.18" y="199.53" width="2.70" height="0.80" fill="#1a1a1a"/>
<rect x="84.08" y="192.43" width="2.90" height="1.25" fill="#000"/>
<text x="84.38" y="196.63" font-family="'Liberation Serif', 'Times New Roman', serif" font-size="10.30" text-anchor="end" fill="#000">25</text>
<rect x="84.18" y="185.73" width="2.70" height="0.80" fill="#1a1a1a"/>
<rect x="84.18" y="178.83" width="2.70" height="0.80" fill="#1a1a1a"/>
<rect x="84.18" y="171.94" width="2.70" height="0.80" fill="#1a1a1a"/>
<rect x="84.18" y="165.04" width="2.70" height="0.80" fill="#1a1a1a"/>
<rect x="84.08" y="157.94" width="2.90" height="1.25" fill="#000"/>
<text x="84.38" y="162.14" font-family="'Liberation Serif', 'Times New Roman', serif" font-size="10.30" text-anchor="end" fill="#000">30</text>
<rect x="84.18" y="151.25" width="2.70" height="0.80" fill="#1a1a1a"/>
<rect x="84.18" y="144.35" width="2.70" height="0.80" fill="#1a1a1a"/>
<rect x="84.18" y="137.45" width="2.70" height="0.80" fill="#1a1a1a"/>
<rect x="84.18" y="130.55" width="2.70" height="0.80" fill="#1a1a1a"/>
<rect x="84.08" y="123.46" width="2.90" height="1.25" fill="#000"/>
<text x="84.38" y="127.66" font-family="'Liberation Serif', 'Times New Roman', serif" font-size="10.30" text-anchor="end" fill="#000">35</text>
<rect x="84.18" y="116.76" width="2.70" height="0.80" fill="#1a1a1a"/>
<rect x="84.18" y="109.86" width="2.70" height="0.80" fill="#1a1a1a"/>
<rect x="84.18" y="102.97" width="2.70" height="0.80" fill="#1a1a1a"/>
<rect x="84.18" y="96.07" width="2.70" height="0.80" fill="#1a1a1a"/>
<rect x="84.08" y="88.97" width="2.90" height="1.25" fill="#000"/>
<text x="84.38" y="93.17" font-family="'Liberation Serif', 'Times New Roman', serif" font-size="10.30" text-anchor="end" fill="#000">40</text>
<rect x="84.18" y="82.27" width="2.70" height="0.80" fill="#1a1a1a"/>
<rect x="84.18" y="75.38" width="2.70" height="0.80" fill="#1a1a1a"/>
<rect x="84.18" y="68.48" width="2.70" height="0.80" fill="#1a1a1a"/>
<rect x="84.18" y="61.58" width="2.70" height="0.80" fill="#1a1a1a"/>
<rect x="84.08" y="54.49" width="2.90" height="1.25" fill="#000"/>
<text x="84.38" y="58.68" font-family="'Liberation Serif', 'Times New Roman', serif" font-size="10.30" text-anchor="end" fill="#000">45</text>
<rect x="84.18" y="47.79" width="2.70" height="0.80" fill="#1a1a1a"/>
<rect x="84.18" y="40.89" width="2.70" height="0.80" fill="#1a1a1a"/>
<rect x="84.18" y="33.99" width="2.70" height="0.80" fill="#1a1a1a"/>
<rect x="84.18" y="27.10" width="2.70" height="0.80" fill="#1a1a1a"/>
<rect x="84.08" y="20.40" width="2.90" height="1.25" fill="#000"/>
<text x="84.38" y="24.20" font-family="'Liberation Serif', 'Times New Roman', serif" font-size="10.30" text-anchor="end" fill="#000">50</text>
<rect x="86.75" y="262.62" width="1.30" height="5.30" fill="#000"/>
<text y="279.80" font-family="'Liberation Serif', 'Times New Roman', serif" font-size="9.00" font-weight="bold" fill="#000"><tspan x="77.30" textLength="6.3" lengthAdjust="spacingAndGlyphs">−</tspan><tspan x="95.50" text-anchor="end" font-size="9.40" stroke="#000" stroke-width="0.15">2.5</tspan></text>
<rect x="104.10" y="262.62" width="1.30" height="5.30" fill="#000"/>
<text x="104.60" y="279.80" font-family="'Liberation Serif', 'Times New Roman', serif" font-size="9.00" font-weight="bold" text-anchor="middle" fill="#000" stroke="#000" stroke-width="0.15">0</text>
<rect x="121.45" y="262.62" width="1.30" height="5.30" fill="#000"/>
<text x="122.55" y="279.80" font-family="'Liberation Serif', 'Times New Roman', serif" font-size="9.00" font-weight="bold" text-anchor="middle" fill="#000" stroke="#000" stroke-width="0.15">2.5</text>
<text x="104.60" y="14.90" font-family="'Liberation Serif', 'Times New Roman', serif" font-size="9.40" font-weight="bold" text-anchor="middle" fill="#000">d = 0.8 mm</text>
<rect x="148.97" y="20.40" width="1.45" height="242.22" fill="#000"/>
<rect x="148.97" y="261.17" width="36.05" height="1.45" fill="#000"/>
<rect x="146.38" y="261.17" width="2.90" height="1.25" fill="#000"/>
<text x="146.67" y="265.50" font-family="'Liberation Serif', 'Times New Roman', serif" font-size="10.30" text-anchor="end" fill="#000">15</text>
<rect x="146.47" y="254.61" width="2.70" height="0.80" fill="#1a1a1a"/>
<rect x="146.47" y="247.71" width="2.70" height="0.80" fill="#1a1a1a"/>
<rect x="146.47" y="240.82" width="2.70" height="0.80" fill="#1a1a1a"/>
<rect x="146.47" y="233.92" width="2.70" height="0.80" fill="#1a1a1a"/>
<rect x="146.38" y="226.83" width="2.90" height="1.25" fill="#000"/>
<text x="146.67" y="231.03" font-family="'Liberation Serif', 'Times New Roman', serif" font-size="10.30" text-anchor="end" fill="#000">20</text>
<rect x="146.47" y="220.13" width="2.70" height="0.80" fill="#1a1a1a"/>
<rect x="146.47" y="213.24" width="2.70" height="0.80" fill="#1a1a1a"/>
<rect x="146.47" y="206.35" width="2.70" height="0.80" fill="#1a1a1a"/>
<rect x="146.47" y="199.45" width="2.70" height="0.80" fill="#1a1a1a"/>
<rect x="146.38" y="192.36" width="2.90" height="1.25" fill="#000"/>
<text x="146.67" y="196.56" font-family="'Liberation Serif', 'Times New Roman', serif" font-size="10.30" text-anchor="end" fill="#000">25</text>
<rect x="146.47" y="185.66" width="2.70" height="0.80" fill="#1a1a1a"/>
<rect x="146.47" y="178.77" width="2.70" height="0.80" fill="#1a1a1a"/>
<rect x="146.47" y="171.87" width="2.70" height="0.80" fill="#1a1a1a"/>
<rect x="146.47" y="164.98" width="2.70" height="0.80" fill="#1a1a1a"/>
<rect x="146.38" y="157.89" width="2.90" height="1.25" fill="#000"/>
<text x="146.67" y="162.08" font-family="'Liberation Serif', 'Times New Roman', serif" font-size="10.30" text-anchor="end" fill="#000">30</text>
<rect x="146.47" y="151.19" width="2.70" height="0.80" fill="#1a1a1a"/>
<rect x="146.47" y="144.30" width="2.70" height="0.80" fill="#1a1a1a"/>
<rect x="146.47" y="137.40" width="2.70" height="0.80" fill="#1a1a1a"/>
<rect x="146.47" y="130.51" width="2.70" height="0.80" fill="#1a1a1a"/>
<rect x="146.38" y="123.41" width="2.90" height="1.25" fill="#000"/>
<text x="146.67" y="127.61" font-family="'Liberation Serif', 'Times New Roman', serif" font-size="10.30" text-anchor="end" fill="#000">35</text>
<rect x="146.47" y="116.72" width="2.70" height="0.80" fill="#1a1a1a"/>
<rect x="146.47" y="109.83" width="2.70" height="0.80" fill="#1a1a1a"/>
<rect x="146.47" y="102.93" width="2.70" height="0.80" fill="#1a1a1a"/>
<rect x="146.47" y="96.04" width="2.70" height="0.80" fill="#1a1a1a"/>
<rect x="146.38" y="88.94" width="2.90" height="1.25" fill="#000"/>
<text x="146.67" y="93.14" font-family="'Liberation Serif', 'Times New Roman', serif" font-size="10.30" text-anchor="end" fill="#000">40</text>
<rect x="146.47" y="82.25" width="2.70" height="0.80" fill="#1a1a1a"/>
<rect x="146.47" y="75.35" width="2.70" height="0.80" fill="#1a1a1a"/>
<rect x="146.47" y="68.46" width="2.70" height="0.80" fill="#1a1a1a"/>
<rect x="146.47" y="61.57" width="2.70" height="0.80" fill="#1a1a1a"/>
<rect x="146.38" y="54.47" width="2.90" height="1.25" fill="#000"/>
<text x="146.67" y="58.67" font-family="'Liberation Serif', 'Times New Roman', serif" font-size="10.30" text-anchor="end" fill="#000">45</text>
<rect x="146.47" y="47.78" width="2.70" height="0.80" fill="#1a1a1a"/>
<rect x="146.47" y="40.88" width="2.70" height="0.80" fill="#1a1a1a"/>
<rect x="146.47" y="33.99" width="2.70" height="0.80" fill="#1a1a1a"/>
<rect x="146.47" y="27.09" width="2.70" height="0.80" fill="#1a1a1a"/>
<rect x="146.38" y="20.40" width="2.90" height="1.25" fill="#000"/>
<text x="146.67" y="24.20" font-family="'Liberation Serif', 'Times New Roman', serif" font-size="10.30" text-anchor="end" fill="#000">50</text>
<rect x="149.05" y="262.52" width="1.30" height="5.30" fill="#000"/>
<text y="279.80" font-family="'Liberation Serif', 'Times New Roman', serif" font-size="9.00" font-weight="bold" fill="#000"><tspan x="142.30" textLength="6.3" lengthAdjust="spacingAndGlyphs">−</tspan><tspan x="159.80" text-anchor="end" font-size="9.40" stroke="#000" stroke-width="0.15">2.5</tspan></text>
<rect x="166.30" y="262.52" width="1.30" height="5.30" fill="#000"/>
<text x="166.95" y="279.80" font-family="'Liberation Serif', 'Times New Roman', serif" font-size="9.00" font-weight="bold" text-anchor="middle" fill="#000" stroke="#000" stroke-width="0.15">0</text>
<rect x="183.55" y="262.52" width="1.30" height="5.30" fill="#000"/>
<text x="184.55" y="279.80" font-family="'Liberation Serif', 'Times New Roman', serif" font-size="9.00" font-weight="bold" text-anchor="middle" fill="#000" stroke="#000" stroke-width="0.15">2.5</text>
<text x="166.90" y="14.90" font-family="'Liberation Serif', 'Times New Roman', serif" font-size="9.40" font-weight="bold" text-anchor="middle" fill="#000">d = 0.4 mm</text>
<rect x="441.27" y="18.70" width="1.45" height="246.32" fill="#000"/>
<rect x="441.27" y="263.57" width="36.25" height="1.45" fill="#000"/>
<rect x="438.67" y="263.57" width="2.90" height="1.25" fill="#000"/>
<text x="438.97" y="267.90" font-family="'Liberation Serif', 'Times New Roman', serif" font-size="10.30" text-anchor="end" fill="#000">15</text>
<rect x="438.77" y="256.89" width="2.70" height="0.80" fill="#1a1a1a"/>
<rect x="438.77" y="249.88" width="2.70" height="0.80" fill="#1a1a1a"/>
<rect x="438.77" y="242.87" width="2.70" height="0.80" fill="#1a1a1a"/>
<rect x="438.77" y="235.85" width="2.70" height="0.80" fill="#1a1a1a"/>
<rect x="438.67" y="228.64" width="2.90" height="1.25" fill="#000"/>
<text x="438.97" y="232.84" font-family="'Liberation Serif', 'Times New Roman', serif" font-size="10.30" text-anchor="end" fill="#000">20</text>
<rect x="438.77" y="221.83" width="2.70" height="0.80" fill="#1a1a1a"/>
<rect x="438.77" y="214.82" width="2.70" height="0.80" fill="#1a1a1a"/>
<rect x="438.77" y="207.81" width="2.70" height="0.80" fill="#1a1a1a"/>
<rect x="438.77" y="200.80" width="2.70" height="0.80" fill="#1a1a1a"/>
<rect x="438.67" y="193.59" width="2.90" height="1.25" fill="#000"/>
<text x="438.97" y="197.78" font-family="'Liberation Serif', 'Times New Roman', serif" font-size="10.30" text-anchor="end" fill="#000">25</text>
<rect x="438.77" y="186.77" width="2.70" height="0.80" fill="#1a1a1a"/>
<rect x="438.77" y="179.76" width="2.70" height="0.80" fill="#1a1a1a"/>
<rect x="438.77" y="172.75" width="2.70" height="0.80" fill="#1a1a1a"/>
<rect x="438.77" y="165.74" width="2.70" height="0.80" fill="#1a1a1a"/>
<rect x="438.67" y="158.53" width="2.90" height="1.25" fill="#000"/>
<text x="438.97" y="162.73" font-family="'Liberation Serif', 'Times New Roman', serif" font-size="10.30" text-anchor="end" fill="#000">30</text>
<rect x="438.77" y="151.72" width="2.70" height="0.80" fill="#1a1a1a"/>
<rect x="438.77" y="144.71" width="2.70" height="0.80" fill="#1a1a1a"/>
<rect x="438.77" y="137.69" width="2.70" height="0.80" fill="#1a1a1a"/>
<rect x="438.77" y="130.68" width="2.70" height="0.80" fill="#1a1a1a"/>
<rect x="438.67" y="123.47" width="2.90" height="1.25" fill="#000"/>
<text x="438.97" y="127.67" font-family="'Liberation Serif', 'Times New Roman', serif" font-size="10.30" text-anchor="end" fill="#000">35</text>
<rect x="438.77" y="116.66" width="2.70" height="0.80" fill="#1a1a1a"/>
<rect x="438.77" y="109.65" width="2.70" height="0.80" fill="#1a1a1a"/>
<rect x="438.77" y="102.64" width="2.70" height="0.80" fill="#1a1a1a"/>
<rect x="438.77" y="95.63" width="2.70" height="0.80" fill="#1a1a1a"/>
<rect x="438.67" y="88.41" width="2.90" height="1.25" fill="#000"/>
<text x="438.97" y="92.61" font-family="'Liberation Serif', 'Times New Roman', serif" font-size="10.30" text-anchor="end" fill="#000">40</text>
<rect x="438.77" y="81.60" width="2.70" height="0.80" fill="#1a1a1a"/>
<rect x="438.77" y="74.59" width="2.70" height="0.80" fill="#1a1a1a"/>
<rect x="438.77" y="67.58" width="2.70" height="0.80" fill="#1a1a1a"/>
<rect x="438.77" y="60.57" width="2.70" height="0.80" fill="#1a1a1a"/>
<rect x="438.67" y="53.36" width="2.90" height="1.25" fill="#000"/>
<text x="438.97" y="57.56" font-family="'Liberation Serif', 'Times New Roman', serif" font-size="10.30" text-anchor="end" fill="#000">45</text>
<rect x="438.77" y="46.55" width="2.70" height="0.80" fill="#1a1a1a"/>
<rect x="438.77" y="39.53" width="2.70" height="0.80" fill="#1a1a1a"/>
<rect x="438.77" y="32.52" width="2.70" height="0.80" fill="#1a1a1a"/>
<rect x="438.77" y="25.51" width="2.70" height="0.80" fill="#1a1a1a"/>
<rect x="438.67" y="18.70" width="2.90" height="1.25" fill="#000"/>
<text x="438.97" y="22.50" font-family="'Liberation Serif', 'Times New Roman', serif" font-size="10.30" text-anchor="end" fill="#000">50</text>
<rect x="441.35" y="264.93" width="1.30" height="5.30" fill="#000"/>
<text y="279.40" font-family="'Liberation Serif', 'Times New Roman', serif" font-size="9.00" font-weight="bold" fill="#000"><tspan x="431.30" textLength="6.3" lengthAdjust="spacingAndGlyphs">−</tspan><tspan x="449.60" text-anchor="end" font-size="9.40" stroke="#000" stroke-width="0.15">2.5</tspan></text>
<rect x="458.70" y="264.93" width="1.30" height="5.30" fill="#000"/>
<text x="459.20" y="279.40" font-family="'Liberation Serif', 'Times New Roman', serif" font-size="9.00" font-weight="bold" text-anchor="middle" fill="#000" stroke="#000" stroke-width="0.15">0</text>
<rect x="476.05" y="264.93" width="1.30" height="5.30" fill="#000"/>
<text x="477.45" y="279.40" font-family="'Liberation Serif', 'Times New Roman', serif" font-size="9.00" font-weight="bold" text-anchor="middle" fill="#000" stroke="#000" stroke-width="0.15">2.5</text>
<text x="458.10" y="10.90" font-family="'Liberation Serif', 'Times New Roman', serif" font-size="9.65" font-weight="bold" text-anchor="middle" fill="#000">d = 0.8 mm</text>
<rect x="503.47" y="18.70" width="1.45" height="246.32" fill="#000"/>
<rect x="503.47" y="263.57" width="36.45" height="1.45" fill="#000"/>
<rect x="500.87" y="263.57" width="2.90" height="1.25" fill="#000"/>
<text x="501.17" y="267.90" font-family="'Liberation Serif', 'Times New Roman', serif" font-size="10.30" text-anchor="end" fill="#000">15</text>
<rect x="500.97" y="256.89" width="2.70" height="0.80" fill="#1a1a1a"/>
<rect x="500.97" y="249.88" width="2.70" height="0.80" fill="#1a1a1a"/>
<rect x="500.97" y="242.87" width="2.70" height="0.80" fill="#1a1a1a"/>
<rect x="500.97" y="235.85" width="2.70" height="0.80" fill="#1a1a1a"/>
<rect x="500.87" y="228.64" width="2.90" height="1.25" fill="#000"/>
<text x="501.17" y="232.84" font-family="'Liberation Serif', 'Times New Roman', serif" font-size="10.30" text-anchor="end" fill="#000">20</text>
<rect x="500.97" y="221.83" width="2.70" height="0.80" fill="#1a1a1a"/>
<rect x="500.97" y="214.82" width="2.70" height="0.80" fill="#1a1a1a"/>
<rect x="500.97" y="207.81" width="2.70" height="0.80" fill="#1a1a1a"/>
<rect x="500.97" y="200.80" width="2.70" height="0.80" fill="#1a1a1a"/>
<rect x="500.87" y="193.59" width="2.90" height="1.25" fill="#000"/>
<text x="501.17" y="197.78" font-family="'Liberation Serif', 'Times New Roman', serif" font-size="10.30" text-anchor="end" fill="#000">25</text>
<rect x="500.97" y="186.77" width="2.70" height="0.80" fill="#1a1a1a"/>
<rect x="500.97" y="179.76" width="2.70" height="0.80" fill="#1a1a1a"/>
<rect x="500.97" y="172.75" width="2.70" height="0.80" fill="#1a1a1a"/>
<rect x="500.97" y="165.74" width="2.70" height="0.80" fill="#1a1a1a"/>
<rect x="500.87" y="158.53" width="2.90" height="1.25" fill="#000"/>
<text x="501.17" y="162.73" font-family="'Liberation Serif', 'Times New Roman', serif" font-size="10.30" text-anchor="end" fill="#000">30</text>
<rect x="500.97" y="151.72" width="2.70" height="0.80" fill="#1a1a1a"/>
<rect x="500.97" y="144.71" width="2.70" height="0.80" fill="#1a1a1a"/>
<rect x="500.97" y="137.69" width="2.70" height="0.80" fill="#1a1a1a"/>
<rect x="500.97" y="130.68" width="2.70" height="0.80" fill="#1a1a1a"/>
<rect x="500.87" y="123.47" width="2.90" height="1.25" fill="#000"/>
<text x="501.17" y="127.67" font-family="'Liberation Serif', 'Times New Roman', serif" font-size="10.30" text-anchor="end" fill="#000">35</text>
<rect x="500.97" y="116.66" width="2.70" height="0.80" fill="#1a1a1a"/>
<rect x="500.97" y="109.65" width="2.70" height="0.80" fill="#1a1a1a"/>
<rect x="500.97" y="102.64" width="2.70" height="0.80" fill="#1a1a1a"/>
<rect x="500.97" y="95.63" width="2.70" height="0.80" fill="#1a1a1a"/>
<rect x="500.87" y="88.41" width="2.90" height="1.25" fill="#000"/>
<text x="501.17" y="92.61" font-family="'Liberation Serif', 'Times New Roman', serif" font-size="10.30" text-anchor="end" fill="#000">40</text>
<rect x="500.97" y="81.60" width="2.70" height="0.80" fill="#1a1a1a"/>
<rect x="500.97" y="74.59" width="2.70" height="0.80" fill="#1a1a1a"/>
<rect x="500.97" y="67.58" width="2.70" height="0.80" fill="#1a1a1a"/>
<rect x="500.97" y="60.57" width="2.70" height="0.80" fill="#1a1a1a"/>
<rect x="500.87" y="53.36" width="2.90" height="1.25" fill="#000"/>
<text x="501.17" y="57.56" font-family="'Liberation Serif', 'Times New Roman', serif" font-size="10.30" text-anchor="end" fill="#000">45</text>
<rect x="500.97" y="46.55" width="2.70" height="0.80" fill="#1a1a1a"/>
<rect x="500.97" y="39.53" width="2.70" height="0.80" fill="#1a1a1a"/>
<rect x="500.97" y="32.52" width="2.70" height="0.80" fill="#1a1a1a"/>
<rect x="500.97" y="25.51" width="2.70" height="0.80" fill="#1a1a1a"/>
<rect x="500.87" y="18.70" width="2.90" height="1.25" fill="#000"/>
<text x="501.17" y="22.50" font-family="'Liberation Serif', 'Times New Roman', serif" font-size="10.30" text-anchor="end" fill="#000">50</text>
<rect x="503.55" y="264.93" width="1.30" height="5.30" fill="#000"/>
<text y="279.40" font-family="'Liberation Serif', 'Times New Roman', serif" font-size="9.00" font-weight="bold" fill="#000"><tspan x="493.50" textLength="6.3" lengthAdjust="spacingAndGlyphs">−</tspan><tspan x="512.00" text-anchor="end" font-size="9.40" stroke="#000" stroke-width="0.15">2.5</tspan></text>
<rect x="521.00" y="264.93" width="1.30" height="5.30" fill="#000"/>
<text x="521.35" y="279.40" font-family="'Liberation Serif', 'Times New Roman', serif" font-size="9.00" font-weight="bold" text-anchor="middle" fill="#000" stroke="#000" stroke-width="0.15">0</text>
<rect x="538.45" y="264.93" width="1.30" height="5.30" fill="#000"/>
<text x="539.80" y="279.40" font-family="'Liberation Serif', 'Times New Roman', serif" font-size="9.00" font-weight="bold" text-anchor="middle" fill="#000" stroke="#000" stroke-width="0.15">2.5</text>
<text x="521.30" y="10.90" font-family="'Liberation Serif', 'Times New Roman', serif" font-size="9.65" font-weight="bold" text-anchor="middle" fill="#000">d = 0.4 mm</text>
<rect x="27.20" y="45.40" width="12.00" height="188.40" fill="url(#lgA)"/>
<rect x="27.20" y="54.85" width="12.00" height="0.7" fill="#000" fill-opacity="0.62"/>
<rect x="27.20" y="64.25" width="12.00" height="0.7" fill="#000" fill-opacity="0.62"/>
<rect x="27.20" y="73.65" width="12.00" height="0.7" fill="#000" fill-opacity="0.62"/>
<rect x="27.20" y="83.05" width="12.00" height="0.7" fill="#000" fill-opacity="0.62"/>
<rect x="27.20" y="92.45" width="12.00" height="0.7" fill="#000" fill-opacity="0.62"/>
<rect x="27.20" y="101.85" width="12.00" height="0.7" fill="#000" fill-opacity="0.62"/>
<rect x="27.20" y="111.25" width="12.00" height="0.7" fill="#000" fill-opacity="0.62"/>
<rect x="27.20" y="120.65" width="12.00" height="0.7" fill="#000" fill-opacity="0.62"/>
<rect x="27.20" y="130.05" width="12.00" height="0.7" fill="#000" fill-opacity="0.62"/>
<rect x="27.20" y="139.45" width="12.00" height="0.7" fill="#000" fill-opacity="0.62"/>
<rect x="27.20" y="148.85" width="12.00" height="0.7" fill="#000" fill-opacity="0.62"/>
<rect x="27.20" y="158.25" width="12.00" height="0.7" fill="#000" fill-opacity="0.62"/>
<rect x="27.20" y="167.65" width="12.00" height="0.7" fill="#000" fill-opacity="0.62"/>
<rect x="27.20" y="177.05" width="12.00" height="0.7" fill="#000" fill-opacity="0.62"/>
<rect x="27.20" y="186.45" width="12.00" height="0.7" fill="#000" fill-opacity="0.62"/>
<rect x="27.20" y="195.85" width="12.00" height="0.7" fill="#000" fill-opacity="0.62"/>
<rect x="27.20" y="205.25" width="12.00" height="0.7" fill="#000" fill-opacity="0.62"/>
<rect x="27.20" y="214.65" width="12.00" height="0.7" fill="#000" fill-opacity="0.62"/>
<rect x="27.20" y="224.05" width="12.00" height="0.7" fill="#000" fill-opacity="0.62"/>
<rect x="27.45" y="45.65" width="11.50" height="187.90" fill="none" stroke="#000" stroke-opacity="0.35" stroke-width="0.5"/>
<text x="45.40" y="49.35" font-family="'Liberation Serif', 'Times New Roman', serif" font-size="7.80" font-weight="bold" fill="#000" stroke="#000" stroke-width="0.2">1</text>
<text x="45.40" y="58.75" font-family="'Liberation Serif', 'Times New Roman', serif" font-size="7.80" font-weight="bold" fill="#000" stroke="#000" stroke-width="0.2">0.95</text>
<text x="45.40" y="68.15" font-family="'Liberation Serif', 'Times New Roman', serif" font-size="7.80" font-weight="bold" fill="#000" stroke="#000" stroke-width="0.2">0.9</text>
<text x="45.40" y="77.55" font-family="'Liberation Serif', 'Times New Roman', serif" font-size="7.80" font-weight="bold" fill="#000" stroke="#000" stroke-width="0.2">0.85</text>
<text x="45.40" y="86.95" font-family="'Liberation Serif', 'Times New Roman', serif" font-size="7.80" font-weight="bold" fill="#000" stroke="#000" stroke-width="0.2">0.8</text>
<text x="45.40" y="96.35" font-family="'Liberation Serif', 'Times New Roman', serif" font-size="7.80" font-weight="bold" fill="#000" stroke="#000" stroke-width="0.2">0.75</text>
<text x="45.40" y="105.75" font-family="'Liberation Serif', 'Times New Roman', serif" font-size="7.80" font-weight="bold" fill="#000" stroke="#000" stroke-width="0.2">0.7</text>
<text x="45.40" y="115.15" font-family="'Liberation Serif', 'Times New Roman', serif" font-size="7.80" font-weight="bold" fill="#000" stroke="#000" stroke-width="0.2">0.65</text>
<text x="45.40" y="124.55" font-family="'Liberation Serif', 'Times New Roman', serif" font-size="7.80" font-weight="bold" fill="#000" stroke="#000" stroke-width="0.2">0.6</text>
<text x="45.40" y="133.95" font-family="'Liberation Serif', 'Times New Roman', serif" font-size="7.80" font-weight="bold" fill="#000" stroke="#000" stroke-width="0.2">0.55</text>
<text x="45.40" y="143.35" font-family="'Liberation Serif', 'Times New Roman', serif" font-size="7.80" font-weight="bold" fill="#000" stroke="#000" stroke-width="0.2">0.5</text>
<text x="45.40" y="152.75" font-family="'Liberation Serif', 'Times New Roman', serif" font-size="7.80" font-weight="bold" fill="#000" stroke="#000" stroke-width="0.2">0.45</text>
<text x="45.40" y="162.15" font-family="'Liberation Serif', 'Times New Roman', serif" font-size="7.80" font-weight="bold" fill="#000" stroke="#000" stroke-width="0.2">0.4</text>
<text x="45.40" y="171.55" font-family="'Liberation Serif', 'Times New Roman', serif" font-size="7.80" font-weight="bold" fill="#000" stroke="#000" stroke-width="0.2">0.35</text>
<text x="45.40" y="180.95" font-family="'Liberation Serif', 'Times New Roman', serif" font-size="7.80" font-weight="bold" fill="#000" stroke="#000" stroke-width="0.2">0.3</text>
<text x="45.40" y="190.35" font-family="'Liberation Serif', 'Times New Roman', serif" font-size="7.80" font-weight="bold" fill="#000" stroke="#000" stroke-width="0.2">0.25</text>
<text x="45.40" y="199.75" font-family="'Liberation Serif', 'Times New Roman', serif" font-size="7.80" font-weight="bold" fill="#000" stroke="#000" stroke-width="0.2">0.2</text>
<text x="45.40" y="209.15" font-family="'Liberation Serif', 'Times New Roman', serif" font-size="7.80" font-weight="bold" fill="#000" stroke="#000" stroke-width="0.2">0.15</text>
<text x="45.40" y="218.55" font-family="'Liberation Serif', 'Times New Roman', serif" font-size="7.80" font-weight="bold" fill="#000" stroke="#000" stroke-width="0.2">0.1</text>
<text x="45.40" y="227.95" font-family="'Liberation Serif', 'Times New Roman', serif" font-size="7.80" font-weight="bold" fill="#000" stroke="#000" stroke-width="0.2">0.05</text>
<text x="45.40" y="237.35" font-family="'Liberation Serif', 'Times New Roman', serif" font-size="7.80" font-weight="bold" fill="#000" stroke="#000" stroke-width="0.2">0</text>
<text x="4.9" y="40.0" font-family="'Liberation Serif', 'Times New Roman', serif" font-size="9.75" font-weight="bold" fill="#000" stroke="#000" stroke-width="0.15">H<tspan font-size="6" dy="1.6">2</tspan><tspan dy="-1.6"> Mass Fraction</tspan></text>
<rect x="378.80" y="38.20" width="11.90" height="219.82" fill="url(#lgB)"/>
<rect x="378.80" y="42.65" width="11.90" height="0.7" fill="#000" fill-opacity="0.62"/>
<rect x="378.80" y="52.21" width="11.90" height="0.7" fill="#000" fill-opacity="0.62"/>
<rect x="378.80" y="61.77" width="11.90" height="0.7" fill="#000" fill-opacity="0.62"/>
<rect x="378.80" y="71.33" width="11.90" height="0.7" fill="#000" fill-opacity="0.62"/>
<rect x="378.80" y="80.89" width="11.90" height="0.7" fill="#000" fill-opacity="0.62"/>
<rect x="378.80" y="90.45" width="11.90" height="0.7" fill="#000" fill-opacity="0.62"/>
<rect x="378.80" y="100.01" width="11.90" height="0.7" fill="#000" fill-opacity="0.62"/>
<rect x="378.80" y="109.57" width="11.90" height="0.7" fill="#000" fill-opacity="0.62"/>
<rect x="378.80" y="119.13" width="11.90" height="0.7" fill="#000" fill-opacity="0.62"/>
<rect x="378.80" y="128.69" width="11.90" height="0.7" fill="#000" fill-opacity="0.62"/>
<rect x="378.80" y="138.25" width="11.90" height="0.7" fill="#000" fill-opacity="0.62"/>
<rect x="378.80" y="147.81" width="11.90" height="0.7" fill="#000" fill-opacity="0.62"/>
<rect x="378.80" y="157.37" width="11.90" height="0.7" fill="#000" fill-opacity="0.62"/>
<rect x="378.80" y="166.93" width="11.90" height="0.7" fill="#000" fill-opacity="0.62"/>
<rect x="378.80" y="176.49" width="11.90" height="0.7" fill="#000" fill-opacity="0.62"/>
<rect x="378.80" y="186.05" width="11.90" height="0.7" fill="#000" fill-opacity="0.62"/>
<rect x="378.80" y="195.61" width="11.90" height="0.7" fill="#000" fill-opacity="0.62"/>
<rect x="378.80" y="205.17" width="11.90" height="0.7" fill="#000" fill-opacity="0.62"/>
<rect x="378.80" y="214.73" width="11.90" height="0.7" fill="#000" fill-opacity="0.62"/>
<rect x="378.80" y="224.29" width="11.90" height="0.7" fill="#000" fill-opacity="0.62"/>
<rect x="378.80" y="233.85" width="11.90" height="0.7" fill="#000" fill-opacity="0.62"/>
<rect x="378.80" y="243.41" width="11.90" height="0.7" fill="#000" fill-opacity="0.62"/>
<rect x="378.80" y="252.97" width="11.90" height="0.7" fill="#000" fill-opacity="0.62"/>
<rect x="379.05" y="38.45" width="11.40" height="219.32" fill="none" stroke="#000" stroke-opacity="0.35" stroke-width="0.5"/>
<text x="397.30" y="46.75" font-family="'Liberation Serif', 'Times New Roman', serif" font-size="7.50" font-weight="bold" fill="#000" stroke="#000" stroke-width="0.2">0.23</text>
<text x="397.30" y="56.31" font-family="'Liberation Serif', 'Times New Roman', serif" font-size="7.50" font-weight="bold" fill="#000" stroke="#000" stroke-width="0.2">0.22</text>
<text x="397.30" y="65.87" font-family="'Liberation Serif', 'Times New Roman', serif" font-size="7.50" font-weight="bold" fill="#000" stroke="#000" stroke-width="0.2">0.21</text>
<text x="397.30" y="75.43" font-family="'Liberation Serif', 'Times New Roman', serif" font-size="7.50" font-weight="bold" fill="#000" stroke="#000" stroke-width="0.2">0.2</text>
<text x="397.30" y="84.99" font-family="'Liberation Serif', 'Times New Roman', serif" font-size="7.50" font-weight="bold" fill="#000" stroke="#000" stroke-width="0.2">0.19</text>
<text x="397.30" y="94.55" font-family="'Liberation Serif', 'Times New Roman', serif" font-size="7.50" font-weight="bold" fill="#000" stroke="#000" stroke-width="0.2">0.18</text>
<text x="397.30" y="104.11" font-family="'Liberation Serif', 'Times New Roman', serif" font-size="7.50" font-weight="bold" fill="#000" stroke="#000" stroke-width="0.2">0.17</text>
<text x="397.30" y="113.67" font-family="'Liberation Serif', 'Times New Roman', serif" font-size="7.50" font-weight="bold" fill="#000" stroke="#000" stroke-width="0.2">0.16</text>
<text x="397.30" y="123.23" font-family="'Liberation Serif', 'Times New Roman', serif" font-size="7.50" font-weight="bold" fill="#000" stroke="#000" stroke-width="0.2">0.15</text>
<text x="397.30" y="132.79" font-family="'Liberation Serif', 'Times New Roman', serif" font-size="7.50" font-weight="bold" fill="#000" stroke="#000" stroke-width="0.2">0.14</text>
<text x="397.30" y="142.35" font-family="'Liberation Serif', 'Times New Roman', serif" font-size="7.50" font-weight="bold" fill="#000" stroke="#000" stroke-width="0.2">0.13</text>
<text x="397.30" y="151.91" font-family="'Liberation Serif', 'Times New Roman', serif" font-size="7.50" font-weight="bold" fill="#000" stroke="#000" stroke-width="0.2">0.12</text>
<text x="397.30" y="161.47" font-family="'Liberation Serif', 'Times New Roman', serif" font-size="7.50" font-weight="bold" fill="#000" stroke="#000" stroke-width="0.2">0.11</text>
<text x="397.30" y="171.03" font-family="'Liberation Serif', 'Times New Roman', serif" font-size="7.50" font-weight="bold" fill="#000" stroke="#000" stroke-width="0.2">0.1</text>
<text x="397.30" y="180.59" font-family="'Liberation Serif', 'Times New Roman', serif" font-size="7.50" font-weight="bold" fill="#000" stroke="#000" stroke-width="0.2">0.09</text>
<text x="397.30" y="190.15" font-family="'Liberation Serif', 'Times New Roman', serif" font-size="7.50" font-weight="bold" fill="#000" stroke="#000" stroke-width="0.2">0.08</text>
<text x="397.30" y="199.71" font-family="'Liberation Serif', 'Times New Roman', serif" font-size="7.50" font-weight="bold" fill="#000" stroke="#000" stroke-width="0.2">0.07</text>
<text x="397.30" y="209.27" font-family="'Liberation Serif', 'Times New Roman', serif" font-size="7.50" font-weight="bold" fill="#000" stroke="#000" stroke-width="0.2">0.06</text>
<text x="397.30" y="218.83" font-family="'Liberation Serif', 'Times New Roman', serif" font-size="7.50" font-weight="bold" fill="#000" stroke="#000" stroke-width="0.2">0.05</text>
<text x="397.30" y="228.39" font-family="'Liberation Serif', 'Times New Roman', serif" font-size="7.50" font-weight="bold" fill="#000" stroke="#000" stroke-width="0.2">0.04</text>
<text x="397.30" y="237.95" font-family="'Liberation Serif', 'Times New Roman', serif" font-size="7.50" font-weight="bold" fill="#000" stroke="#000" stroke-width="0.2">0.03</text>
<text x="397.30" y="247.51" font-family="'Liberation Serif', 'Times New Roman', serif" font-size="7.50" font-weight="bold" fill="#000" stroke="#000" stroke-width="0.2">0.02</text>
<text x="397.30" y="257.07" font-family="'Liberation Serif', 'Times New Roman', serif" font-size="7.50" font-weight="bold" fill="#000" stroke="#000" stroke-width="0.2">0.01</text>
<text x="355.0" y="31.6" font-family="'Liberation Sans', Arial, sans-serif" font-size="9.8" fill="#111" stroke="#111" stroke-width="0.55">O<tspan font-size="6.2" dy="1.7">2</tspan><tspan dy="-1.7"> mass fraction</tspan></text>
<text x="97.6" y="295.9" font-family="'Liberation Serif', 'Times New Roman', serif" font-size="13.8" text-anchor="middle" fill="#111">(<tspan font-weight="bold" font-size="13.3" stroke="#111" stroke-width="0.2">a</tspan>)</text>
<text x="453.4" y="295.9" font-family="'Liberation Serif', 'Times New Roman', serif" font-size="13.8" text-anchor="middle" fill="#111">(<tspan font-weight="bold" font-size="13.3" stroke="#111" stroke-width="0.2">b</tspan>)</text>
</svg>
</body></html>
